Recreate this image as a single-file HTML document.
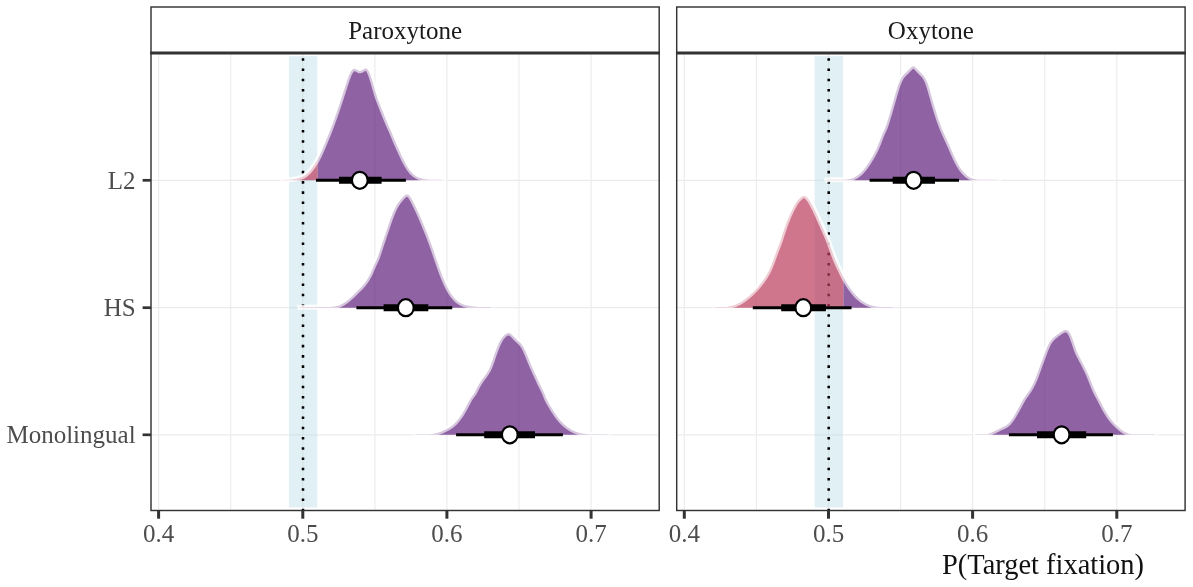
<!DOCTYPE html>
<html lang="en"><head><meta charset="utf-8"><title>P(Target fixation)</title>
<style>
html,body{margin:0;padding:0;background:#fff;}
body{width:1193px;height:587px;overflow:hidden;}
svg{display:block;will-change:transform;}
text{font-family:"Liberation Serif","DejaVu Serif",serif;}
.ax{font-size:25px;fill:#4d4d4d;}
.st{font-size:25px;fill:#1a1a1a;}
.tt{font-size:28.45px;fill:#111;}
</style></head><body>
<svg width="1193" height="587" viewBox="0 0 1193 587">
<rect width="1193" height="587" fill="#fff"/>
<clipPath id="c0"><rect x="151.0" y="53.0" width="508.20000000000005" height="457.5"/></clipPath>
<g clip-path="url(#c0)">
<line x1="230.7" x2="230.7" y1="53.0" y2="510.5" stroke="#ececec" stroke-width="1.1"/>
<line x1="374.9" x2="374.9" y1="53.0" y2="510.5" stroke="#ececec" stroke-width="1.1"/>
<line x1="519.0" x2="519.0" y1="53.0" y2="510.5" stroke="#ececec" stroke-width="1.1"/>
<line x1="158.6" x2="158.6" y1="53.0" y2="510.5" stroke="#ececec" stroke-width="1.2"/>
<line x1="302.8" x2="302.8" y1="53.0" y2="510.5" stroke="#ececec" stroke-width="1.2"/>
<line x1="446.9" x2="446.9" y1="53.0" y2="510.5" stroke="#ececec" stroke-width="1.2"/>
<line x1="591.1" x2="591.1" y1="53.0" y2="510.5" stroke="#ececec" stroke-width="1.2"/>
<line x1="151.0" x2="659.2" y1="180.3" y2="180.3" stroke="#ececec" stroke-width="1.2"/>
<line x1="151.0" x2="659.2" y1="307.7" y2="307.7" stroke="#ececec" stroke-width="1.2"/>
<line x1="151.0" x2="659.2" y1="434.8" y2="434.8" stroke="#ececec" stroke-width="1.2"/>
<rect x="289.0" y="56.2" width="28.3" height="451.2" fill="#add8e6" fill-opacity="0.38"/>
<line x1="303.0" x2="303.0" y1="511.2" y2="53.0" stroke="#000" stroke-width="2.56" stroke-dasharray="2.56 7.676"/>
<clipPath id="lL2P"><rect x="0" y="0" width="317.7" height="587"/></clipPath>
<clipPath id="rL2P"><rect x="317.7" y="0" width="1193" height="587"/></clipPath>
<defs><path id="fL2P" d="M280.0 180.3 L280.0 180.3 L280.5 180.2 L281.0 180.2 L281.5 180.1 L282.0 180.1 L282.5 180.0 L283.0 179.9 L283.5 179.9 L284.0 179.8 L284.5 179.8 L285.0 179.7 L285.5 179.7 L286.0 179.7 L286.5 179.7 L287.0 179.7 L287.5 179.7 L288.0 179.7 L288.5 179.7 L289.0 179.7 L289.5 179.7 L290.0 179.7 L290.5 179.6 L291.0 179.5 L291.5 179.5 L292.0 179.4 L292.5 179.4 L293.0 179.3 L293.5 179.2 L294.0 179.1 L294.5 179.0 L295.0 179.0 L295.5 178.9 L296.0 178.8 L296.5 178.7 L297.0 178.6 L297.5 178.4 L298.0 178.3 L298.5 178.2 L299.0 178.0 L299.5 177.9 L300.0 177.7 L300.5 177.6 L301.0 177.4 L301.5 177.2 L302.0 177.0 L302.5 176.8 L303.0 176.5 L303.5 176.3 L304.0 176.0 L304.5 175.7 L305.0 175.4 L305.5 175.0 L306.0 174.6 L306.5 174.2 L307.0 173.7 L307.5 173.3 L308.0 172.8 L308.5 172.3 L309.0 171.8 L309.5 171.2 L310.0 170.7 L310.5 170.1 L311.0 169.5 L311.5 168.8 L312.0 168.2 L312.5 167.5 L313.0 166.8 L313.5 166.1 L314.0 165.4 L314.5 164.7 L315.0 163.9 L315.5 163.1 L316.0 162.3 L316.5 161.5 L317.0 160.6 L317.5 159.7 L318.0 158.8 L318.5 157.8 L319.0 156.8 L319.5 155.7 L320.0 154.7 L320.5 153.6 L321.0 152.5 L321.5 151.4 L322.0 150.2 L322.5 149.1 L323.0 148.0 L323.5 146.8 L324.0 145.6 L324.5 144.4 L325.0 143.2 L325.5 141.9 L326.0 140.7 L326.5 139.5 L327.0 138.2 L327.5 137.0 L328.0 135.8 L328.5 134.5 L329.0 133.3 L329.5 132.1 L330.0 130.8 L330.5 129.5 L331.0 128.2 L331.5 126.9 L332.0 125.6 L332.5 124.2 L333.0 122.8 L333.5 121.5 L334.0 120.1 L334.5 118.7 L335.0 117.3 L335.5 115.8 L336.0 114.4 L336.5 112.9 L337.0 111.4 L337.5 109.9 L338.0 108.4 L338.5 106.9 L339.0 105.4 L339.5 103.9 L340.0 102.4 L340.5 100.9 L341.0 99.4 L341.5 97.9 L342.0 96.3 L342.5 94.8 L343.0 93.2 L343.5 91.6 L344.0 90.1 L344.5 88.5 L345.0 86.9 L345.5 85.4 L346.0 83.9 L346.5 82.4 L347.0 80.9 L347.5 79.5 L348.0 78.1 L348.5 76.8 L349.0 75.5 L349.5 74.4 L350.0 73.3 L350.5 72.3 L351.0 71.5 L351.5 70.8 L352.0 70.1 L352.5 69.6 L353.0 69.3 L353.5 69.0 L354.0 68.9 L354.5 68.8 L355.0 68.9 L355.5 69.0 L356.0 69.2 L356.5 69.5 L357.0 69.8 L357.5 70.1 L358.0 70.4 L358.5 70.6 L359.0 70.8 L359.5 70.9 L360.0 70.9 L360.5 70.8 L361.0 70.7 L361.5 70.5 L362.0 70.2 L362.5 70.0 L363.0 69.6 L363.5 69.3 L364.0 69.0 L364.5 68.7 L365.0 68.5 L365.5 68.4 L366.0 68.5 L366.5 68.6 L367.0 68.9 L367.5 69.3 L368.0 70.0 L368.5 70.7 L369.0 71.7 L369.5 72.7 L370.0 73.9 L370.5 75.3 L371.0 76.7 L371.5 78.2 L372.0 79.8 L372.5 81.4 L373.0 83.1 L373.5 84.8 L374.0 86.6 L374.5 88.4 L375.0 90.1 L375.5 91.9 L376.0 93.6 L376.5 95.2 L377.0 96.8 L377.5 98.3 L378.0 99.6 L378.5 101.0 L379.0 102.2 L379.5 103.5 L380.0 104.7 L380.5 106.0 L381.0 107.3 L381.5 108.5 L382.0 109.8 L382.5 111.1 L383.0 112.3 L383.5 113.6 L384.0 114.9 L384.5 116.1 L385.0 117.4 L385.5 118.6 L386.0 119.8 L386.5 121.0 L387.0 122.2 L387.5 123.4 L388.0 124.6 L388.5 125.7 L389.0 126.8 L389.5 127.9 L390.0 129.0 L390.5 130.1 L391.0 131.2 L391.5 132.4 L392.0 133.6 L392.5 134.8 L393.0 136.0 L393.5 137.2 L394.0 138.4 L394.5 139.6 L395.0 140.8 L395.5 142.0 L396.0 143.2 L396.5 144.3 L397.0 145.4 L397.5 146.6 L398.0 147.7 L398.5 148.8 L399.0 149.9 L399.5 151.0 L400.0 152.1 L400.5 153.2 L401.0 154.3 L401.5 155.4 L402.0 156.5 L402.5 157.5 L403.0 158.6 L403.5 159.6 L404.0 160.6 L404.5 161.6 L405.0 162.5 L405.5 163.5 L406.0 164.4 L406.5 165.2 L407.0 166.1 L407.5 166.9 L408.0 167.7 L408.5 168.4 L409.0 169.2 L409.5 169.9 L410.0 170.5 L410.5 171.1 L411.0 171.7 L411.5 172.3 L412.0 172.8 L412.5 173.3 L413.0 173.8 L413.5 174.2 L414.0 174.7 L414.5 175.1 L415.0 175.4 L415.5 175.8 L416.0 176.1 L416.5 176.4 L417.0 176.7 L417.5 176.9 L418.0 177.2 L418.5 177.4 L419.0 177.6 L419.5 177.8 L420.0 178.0 L420.5 178.1 L421.0 178.3 L421.5 178.4 L422.0 178.6 L422.5 178.7 L423.0 178.8 L423.5 178.9 L424.0 179.0 L424.5 179.1 L425.0 179.2 L425.5 179.2 L426.0 179.3 L426.5 179.4 L427.0 179.4 L427.5 179.5 L428.0 179.5 L428.5 179.6 L429.0 179.6 L429.5 179.7 L430.0 179.7 L430.5 179.7 L431.0 179.7 L431.5 179.7 L432.0 179.7 L432.5 179.7 L433.0 179.7 L433.5 179.7 L434.0 179.7 L434.5 179.7 L435.0 179.7 L435.5 179.7 L436.0 179.7 L436.5 179.7 L437.0 179.7 L437.5 179.7 L438.0 179.7 L438.5 179.7 L439.0 179.7 L439.5 179.7 L440.0 179.7 L440.5 179.7 L441.0 179.7 L441.5 179.8 L442.0 179.8 L442.5 179.9 L443.0 179.9 L443.5 180.0 L444.0 180.1 L444.5 180.1 L445.0 180.2 L445.5 180.2 L446.0 180.3 L446.0 180.3 Z"/><path id="oL2P" d="M280.0 180.3 L280.5 180.2 L281.0 180.2 L281.5 180.1 L282.0 180.1 L282.5 180.0 L283.0 179.9 L283.5 179.9 L284.0 179.8 L284.5 179.8 L285.0 179.7 L285.5 179.7 L286.0 179.7 L286.5 179.7 L287.0 179.7 L287.5 179.7 L288.0 179.7 L288.5 179.7 L289.0 179.7 L289.5 179.7 L290.0 179.7 L290.5 179.6 L291.0 179.5 L291.5 179.5 L292.0 179.4 L292.5 179.4 L293.0 179.3 L293.5 179.2 L294.0 179.1 L294.5 179.0 L295.0 179.0 L295.5 178.9 L296.0 178.8 L296.5 178.7 L297.0 178.6 L297.5 178.4 L298.0 178.3 L298.5 178.2 L299.0 178.0 L299.5 177.9 L300.0 177.7 L300.5 177.6 L301.0 177.4 L301.5 177.2 L302.0 177.0 L302.5 176.8 L303.0 176.5 L303.5 176.3 L304.0 176.0 L304.5 175.7 L305.0 175.4 L305.5 175.0 L306.0 174.6 L306.5 174.2 L307.0 173.7 L307.5 173.3 L308.0 172.8 L308.5 172.3 L309.0 171.8 L309.5 171.2 L310.0 170.7 L310.5 170.1 L311.0 169.5 L311.5 168.8 L312.0 168.2 L312.5 167.5 L313.0 166.8 L313.5 166.1 L314.0 165.4 L314.5 164.7 L315.0 163.9 L315.5 163.1 L316.0 162.3 L316.5 161.5 L317.0 160.6 L317.5 159.7 L318.0 158.8 L318.5 157.8 L319.0 156.8 L319.5 155.7 L320.0 154.7 L320.5 153.6 L321.0 152.5 L321.5 151.4 L322.0 150.2 L322.5 149.1 L323.0 148.0 L323.5 146.8 L324.0 145.6 L324.5 144.4 L325.0 143.2 L325.5 141.9 L326.0 140.7 L326.5 139.5 L327.0 138.2 L327.5 137.0 L328.0 135.8 L328.5 134.5 L329.0 133.3 L329.5 132.1 L330.0 130.8 L330.5 129.5 L331.0 128.2 L331.5 126.9 L332.0 125.6 L332.5 124.2 L333.0 122.8 L333.5 121.5 L334.0 120.1 L334.5 118.7 L335.0 117.3 L335.5 115.8 L336.0 114.4 L336.5 112.9 L337.0 111.4 L337.5 109.9 L338.0 108.4 L338.5 106.9 L339.0 105.4 L339.5 103.9 L340.0 102.4 L340.5 100.9 L341.0 99.4 L341.5 97.9 L342.0 96.3 L342.5 94.8 L343.0 93.2 L343.5 91.6 L344.0 90.1 L344.5 88.5 L345.0 86.9 L345.5 85.4 L346.0 83.9 L346.5 82.4 L347.0 80.9 L347.5 79.5 L348.0 78.1 L348.5 76.8 L349.0 75.5 L349.5 74.4 L350.0 73.3 L350.5 72.3 L351.0 71.5 L351.5 70.8 L352.0 70.1 L352.5 69.6 L353.0 69.3 L353.5 69.0 L354.0 68.9 L354.5 68.8 L355.0 68.9 L355.5 69.0 L356.0 69.2 L356.5 69.5 L357.0 69.8 L357.5 70.1 L358.0 70.4 L358.5 70.6 L359.0 70.8 L359.5 70.9 L360.0 70.9 L360.5 70.8 L361.0 70.7 L361.5 70.5 L362.0 70.2 L362.5 70.0 L363.0 69.6 L363.5 69.3 L364.0 69.0 L364.5 68.7 L365.0 68.5 L365.5 68.4 L366.0 68.5 L366.5 68.6 L367.0 68.9 L367.5 69.3 L368.0 70.0 L368.5 70.7 L369.0 71.7 L369.5 72.7 L370.0 73.9 L370.5 75.3 L371.0 76.7 L371.5 78.2 L372.0 79.8 L372.5 81.4 L373.0 83.1 L373.5 84.8 L374.0 86.6 L374.5 88.4 L375.0 90.1 L375.5 91.9 L376.0 93.6 L376.5 95.2 L377.0 96.8 L377.5 98.3 L378.0 99.6 L378.5 101.0 L379.0 102.2 L379.5 103.5 L380.0 104.7 L380.5 106.0 L381.0 107.3 L381.5 108.5 L382.0 109.8 L382.5 111.1 L383.0 112.3 L383.5 113.6 L384.0 114.9 L384.5 116.1 L385.0 117.4 L385.5 118.6 L386.0 119.8 L386.5 121.0 L387.0 122.2 L387.5 123.4 L388.0 124.6 L388.5 125.7 L389.0 126.8 L389.5 127.9 L390.0 129.0 L390.5 130.1 L391.0 131.2 L391.5 132.4 L392.0 133.6 L392.5 134.8 L393.0 136.0 L393.5 137.2 L394.0 138.4 L394.5 139.6 L395.0 140.8 L395.5 142.0 L396.0 143.2 L396.5 144.3 L397.0 145.4 L397.5 146.6 L398.0 147.7 L398.5 148.8 L399.0 149.9 L399.5 151.0 L400.0 152.1 L400.5 153.2 L401.0 154.3 L401.5 155.4 L402.0 156.5 L402.5 157.5 L403.0 158.6 L403.5 159.6 L404.0 160.6 L404.5 161.6 L405.0 162.5 L405.5 163.5 L406.0 164.4 L406.5 165.2 L407.0 166.1 L407.5 166.9 L408.0 167.7 L408.5 168.4 L409.0 169.2 L409.5 169.9 L410.0 170.5 L410.5 171.1 L411.0 171.7 L411.5 172.3 L412.0 172.8 L412.5 173.3 L413.0 173.8 L413.5 174.2 L414.0 174.7 L414.5 175.1 L415.0 175.4 L415.5 175.8 L416.0 176.1 L416.5 176.4 L417.0 176.7 L417.5 176.9 L418.0 177.2 L418.5 177.4 L419.0 177.6 L419.5 177.8 L420.0 178.0 L420.5 178.1 L421.0 178.3 L421.5 178.4 L422.0 178.6 L422.5 178.7 L423.0 178.8 L423.5 178.9 L424.0 179.0 L424.5 179.1 L425.0 179.2 L425.5 179.2 L426.0 179.3 L426.5 179.4 L427.0 179.4 L427.5 179.5 L428.0 179.5 L428.5 179.6 L429.0 179.6 L429.5 179.7 L430.0 179.7 L430.5 179.7 L431.0 179.7 L431.5 179.7 L432.0 179.7 L432.5 179.7 L433.0 179.7 L433.5 179.7 L434.0 179.7 L434.5 179.7 L435.0 179.7 L435.5 179.7 L436.0 179.7 L436.5 179.7 L437.0 179.7 L437.5 179.7 L438.0 179.7 L438.5 179.7 L439.0 179.7 L439.5 179.7 L440.0 179.7 L440.5 179.7 L441.0 179.7 L441.5 179.8 L442.0 179.8 L442.5 179.9 L443.0 179.9 L443.5 180.0 L444.0 180.1 L444.5 180.1 L445.0 180.2 L445.5 180.2 L446.0 180.3"/></defs>
<use href="#oL2P" fill="none" stroke="#fff" stroke-opacity="0.5" stroke-width="5.2" stroke-linejoin="round"/>
<use href="#fL2P" fill="#ba3b5b" fill-opacity="0.7" clip-path="url(#lL2P)"/>
<use href="#fL2P" fill="#5f207c" fill-opacity="0.7" clip-path="url(#rL2P)"/>
<use href="#oL2P" fill="none" stroke="#fff" stroke-opacity="0.64" stroke-width="4.6" stroke-linejoin="round"/>
<clipPath id="lHSP"><rect x="0" y="0" width="317.7" height="587"/></clipPath>
<clipPath id="rHSP"><rect x="317.7" y="0" width="1193" height="587"/></clipPath>
<defs><path id="fHSP" d="M297.4 307.7 L297.4 307.7 L297.9 307.6 L298.4 307.6 L298.9 307.5 L299.4 307.5 L299.9 307.4 L300.4 307.3 L300.9 307.3 L301.4 307.2 L301.9 307.2 L302.4 307.1 L302.9 307.1 L303.4 307.1 L303.9 307.1 L304.4 307.1 L304.9 307.1 L305.4 307.1 L305.9 307.1 L306.4 307.1 L306.9 307.1 L307.4 307.1 L307.9 307.1 L308.4 307.1 L308.9 307.1 L309.4 307.1 L309.9 307.1 L310.4 307.1 L310.9 307.1 L311.4 307.1 L311.9 307.1 L312.4 307.1 L312.9 307.1 L313.4 307.1 L313.9 307.1 L314.4 307.1 L314.9 307.1 L315.4 307.1 L315.9 307.1 L316.4 307.1 L316.9 307.1 L317.4 307.1 L317.9 307.1 L318.4 307.1 L318.9 307.1 L319.4 307.1 L319.9 307.1 L320.4 307.1 L320.9 307.1 L321.4 307.1 L321.9 307.1 L322.4 307.1 L322.9 307.1 L323.4 307.1 L323.9 307.1 L324.4 307.1 L324.9 307.1 L325.4 307.1 L325.9 307.1 L326.4 307.1 L326.9 307.1 L327.4 307.1 L327.9 307.1 L328.4 307.1 L328.9 307.1 L329.4 307.1 L329.9 307.0 L330.4 307.0 L330.9 307.0 L331.4 306.9 L331.9 306.8 L332.4 306.8 L332.9 306.7 L333.4 306.6 L333.9 306.6 L334.4 306.5 L334.9 306.4 L335.4 306.3 L335.9 306.2 L336.4 306.1 L336.9 306.0 L337.4 305.9 L337.9 305.7 L338.4 305.6 L338.9 305.4 L339.4 305.2 L339.9 305.0 L340.4 304.8 L340.9 304.5 L341.4 304.3 L341.9 304.0 L342.4 303.7 L342.9 303.5 L343.4 303.2 L343.9 302.9 L344.4 302.6 L344.9 302.2 L345.4 301.9 L345.9 301.6 L346.4 301.2 L346.9 300.8 L347.4 300.4 L347.9 300.0 L348.4 299.6 L348.9 299.2 L349.4 298.7 L349.9 298.3 L350.4 297.8 L350.9 297.4 L351.4 296.9 L351.9 296.5 L352.4 296.0 L352.9 295.5 L353.4 295.0 L353.9 294.5 L354.4 294.0 L354.9 293.5 L355.4 293.0 L355.9 292.5 L356.4 292.0 L356.9 291.5 L357.4 291.0 L357.9 290.5 L358.4 290.0 L358.9 289.5 L359.4 289.0 L359.9 288.5 L360.4 288.0 L360.9 287.5 L361.4 287.0 L361.9 286.5 L362.4 285.9 L362.9 285.4 L363.4 284.8 L363.9 284.2 L364.4 283.5 L364.9 282.9 L365.4 282.2 L365.9 281.5 L366.4 280.8 L366.9 280.0 L367.4 279.2 L367.9 278.4 L368.4 277.5 L368.9 276.6 L369.4 275.7 L369.9 274.7 L370.4 273.7 L370.9 272.6 L371.4 271.4 L371.9 270.2 L372.4 269.0 L372.9 267.9 L373.4 266.7 L373.9 265.6 L374.4 264.5 L374.9 263.5 L375.4 262.4 L375.9 261.4 L376.4 260.2 L376.9 259.1 L377.4 257.8 L377.9 256.4 L378.4 255.0 L378.9 253.5 L379.4 252.0 L379.9 250.5 L380.4 249.0 L380.9 247.4 L381.4 245.9 L381.9 244.4 L382.4 242.9 L382.9 241.4 L383.4 239.9 L383.9 238.4 L384.4 236.9 L384.9 235.4 L385.4 233.9 L385.9 232.4 L386.4 230.9 L386.9 229.4 L387.4 227.9 L387.9 226.4 L388.4 225.0 L388.9 223.5 L389.4 222.1 L389.9 220.7 L390.4 219.3 L390.9 217.9 L391.4 216.6 L391.9 215.3 L392.4 214.0 L392.9 212.8 L393.4 211.6 L393.9 210.5 L394.4 209.4 L394.9 208.4 L395.4 207.4 L395.9 206.5 L396.4 205.6 L396.9 204.8 L397.4 204.0 L397.9 203.2 L398.4 202.5 L398.9 201.9 L399.4 201.2 L399.9 200.6 L400.4 200.0 L400.9 199.4 L401.4 198.8 L401.9 198.2 L402.4 197.7 L402.9 197.2 L403.4 196.7 L403.9 196.2 L404.4 195.7 L404.9 195.3 L405.4 195.0 L405.9 194.7 L406.4 194.5 L406.9 194.4 L407.4 194.4 L407.9 194.6 L408.4 194.8 L408.9 195.2 L409.4 195.7 L409.9 196.3 L410.4 197.0 L410.9 197.7 L411.4 198.5 L411.9 199.4 L412.4 200.3 L412.9 201.3 L413.4 202.2 L413.9 203.2 L414.4 204.2 L414.9 205.2 L415.4 206.3 L415.9 207.3 L416.4 208.4 L416.9 209.4 L417.4 210.5 L417.9 211.5 L418.4 212.6 L418.9 213.7 L419.4 214.8 L419.9 216.0 L420.4 217.1 L420.9 218.3 L421.4 219.4 L421.9 220.6 L422.4 221.8 L422.9 223.0 L423.4 224.2 L423.9 225.4 L424.4 226.6 L424.9 227.9 L425.4 229.1 L425.9 230.3 L426.4 231.6 L426.9 232.8 L427.4 234.1 L427.9 235.4 L428.4 236.6 L428.9 237.9 L429.4 239.3 L429.9 240.6 L430.4 241.9 L430.9 243.3 L431.4 244.7 L431.9 246.1 L432.4 247.4 L432.9 248.8 L433.4 250.3 L433.9 251.7 L434.4 253.2 L434.9 254.7 L435.4 256.2 L435.9 257.7 L436.4 259.2 L436.9 260.6 L437.4 262.1 L437.9 263.6 L438.4 265.0 L438.9 266.4 L439.4 267.8 L439.9 269.2 L440.4 270.6 L440.9 271.9 L441.4 273.3 L441.9 274.6 L442.4 275.9 L442.9 277.2 L443.4 278.4 L443.9 279.6 L444.4 280.8 L444.9 282.0 L445.4 283.1 L445.9 284.2 L446.4 285.3 L446.9 286.4 L447.4 287.4 L447.9 288.3 L448.4 289.3 L448.9 290.2 L449.4 291.0 L449.9 291.9 L450.4 292.7 L450.9 293.4 L451.4 294.2 L451.9 294.9 L452.4 295.6 L452.9 296.3 L453.4 296.9 L453.9 297.5 L454.4 298.1 L454.9 298.6 L455.4 299.2 L455.9 299.7 L456.4 300.1 L456.9 300.6 L457.4 301.0 L457.9 301.4 L458.4 301.8 L458.9 302.1 L459.4 302.4 L459.9 302.8 L460.4 303.1 L460.9 303.3 L461.4 303.6 L461.9 303.8 L462.4 304.0 L462.9 304.2 L463.4 304.4 L463.9 304.6 L464.4 304.8 L464.9 304.9 L465.4 305.0 L465.9 305.2 L466.4 305.3 L466.9 305.4 L467.4 305.5 L467.9 305.7 L468.4 305.8 L468.9 305.8 L469.4 305.9 L469.9 306.0 L470.4 306.1 L470.9 306.2 L471.4 306.2 L471.9 306.3 L472.4 306.4 L472.9 306.4 L473.4 306.5 L473.9 306.6 L474.4 306.6 L474.9 306.7 L475.4 306.7 L475.9 306.8 L476.4 306.8 L476.9 306.9 L477.4 306.9 L477.9 306.9 L478.4 307.0 L478.9 307.0 L479.4 307.0 L479.9 307.1 L480.4 307.1 L480.9 307.1 L481.4 307.1 L481.9 307.1 L482.4 307.1 L482.9 307.1 L483.4 307.1 L483.9 307.1 L484.4 307.1 L484.9 307.1 L485.4 307.1 L485.9 307.1 L486.4 307.1 L486.9 307.1 L487.4 307.1 L487.9 307.1 L488.4 307.1 L488.9 307.1 L489.4 307.1 L489.9 307.1 L490.4 307.2 L490.9 307.2 L491.4 307.3 L491.9 307.3 L492.4 307.4 L492.9 307.5 L493.4 307.5 L493.9 307.6 L494.4 307.6 L494.9 307.7 L494.9 307.7 Z"/><path id="oHSP" d="M297.4 307.7 L297.9 307.6 L298.4 307.6 L298.9 307.5 L299.4 307.5 L299.9 307.4 L300.4 307.3 L300.9 307.3 L301.4 307.2 L301.9 307.2 L302.4 307.1 L302.9 307.1 L303.4 307.1 L303.9 307.1 L304.4 307.1 L304.9 307.1 L305.4 307.1 L305.9 307.1 L306.4 307.1 L306.9 307.1 L307.4 307.1 L307.9 307.1 L308.4 307.1 L308.9 307.1 L309.4 307.1 L309.9 307.1 L310.4 307.1 L310.9 307.1 L311.4 307.1 L311.9 307.1 L312.4 307.1 L312.9 307.1 L313.4 307.1 L313.9 307.1 L314.4 307.1 L314.9 307.1 L315.4 307.1 L315.9 307.1 L316.4 307.1 L316.9 307.1 L317.4 307.1 L317.9 307.1 L318.4 307.1 L318.9 307.1 L319.4 307.1 L319.9 307.1 L320.4 307.1 L320.9 307.1 L321.4 307.1 L321.9 307.1 L322.4 307.1 L322.9 307.1 L323.4 307.1 L323.9 307.1 L324.4 307.1 L324.9 307.1 L325.4 307.1 L325.9 307.1 L326.4 307.1 L326.9 307.1 L327.4 307.1 L327.9 307.1 L328.4 307.1 L328.9 307.1 L329.4 307.1 L329.9 307.0 L330.4 307.0 L330.9 307.0 L331.4 306.9 L331.9 306.8 L332.4 306.8 L332.9 306.7 L333.4 306.6 L333.9 306.6 L334.4 306.5 L334.9 306.4 L335.4 306.3 L335.9 306.2 L336.4 306.1 L336.9 306.0 L337.4 305.9 L337.9 305.7 L338.4 305.6 L338.9 305.4 L339.4 305.2 L339.9 305.0 L340.4 304.8 L340.9 304.5 L341.4 304.3 L341.9 304.0 L342.4 303.7 L342.9 303.5 L343.4 303.2 L343.9 302.9 L344.4 302.6 L344.9 302.2 L345.4 301.9 L345.9 301.6 L346.4 301.2 L346.9 300.8 L347.4 300.4 L347.9 300.0 L348.4 299.6 L348.9 299.2 L349.4 298.7 L349.9 298.3 L350.4 297.8 L350.9 297.4 L351.4 296.9 L351.9 296.5 L352.4 296.0 L352.9 295.5 L353.4 295.0 L353.9 294.5 L354.4 294.0 L354.9 293.5 L355.4 293.0 L355.9 292.5 L356.4 292.0 L356.9 291.5 L357.4 291.0 L357.9 290.5 L358.4 290.0 L358.9 289.5 L359.4 289.0 L359.9 288.5 L360.4 288.0 L360.9 287.5 L361.4 287.0 L361.9 286.5 L362.4 285.9 L362.9 285.4 L363.4 284.8 L363.9 284.2 L364.4 283.5 L364.9 282.9 L365.4 282.2 L365.9 281.5 L366.4 280.8 L366.9 280.0 L367.4 279.2 L367.9 278.4 L368.4 277.5 L368.9 276.6 L369.4 275.7 L369.9 274.7 L370.4 273.7 L370.9 272.6 L371.4 271.4 L371.9 270.2 L372.4 269.0 L372.9 267.9 L373.4 266.7 L373.9 265.6 L374.4 264.5 L374.9 263.5 L375.4 262.4 L375.9 261.4 L376.4 260.2 L376.9 259.1 L377.4 257.8 L377.9 256.4 L378.4 255.0 L378.9 253.5 L379.4 252.0 L379.9 250.5 L380.4 249.0 L380.9 247.4 L381.4 245.9 L381.9 244.4 L382.4 242.9 L382.9 241.4 L383.4 239.9 L383.9 238.4 L384.4 236.9 L384.9 235.4 L385.4 233.9 L385.9 232.4 L386.4 230.9 L386.9 229.4 L387.4 227.9 L387.9 226.4 L388.4 225.0 L388.9 223.5 L389.4 222.1 L389.9 220.7 L390.4 219.3 L390.9 217.9 L391.4 216.6 L391.9 215.3 L392.4 214.0 L392.9 212.8 L393.4 211.6 L393.9 210.5 L394.4 209.4 L394.9 208.4 L395.4 207.4 L395.9 206.5 L396.4 205.6 L396.9 204.8 L397.4 204.0 L397.9 203.2 L398.4 202.5 L398.9 201.9 L399.4 201.2 L399.9 200.6 L400.4 200.0 L400.9 199.4 L401.4 198.8 L401.9 198.2 L402.4 197.7 L402.9 197.2 L403.4 196.7 L403.9 196.2 L404.4 195.7 L404.9 195.3 L405.4 195.0 L405.9 194.7 L406.4 194.5 L406.9 194.4 L407.4 194.4 L407.9 194.6 L408.4 194.8 L408.9 195.2 L409.4 195.7 L409.9 196.3 L410.4 197.0 L410.9 197.7 L411.4 198.5 L411.9 199.4 L412.4 200.3 L412.9 201.3 L413.4 202.2 L413.9 203.2 L414.4 204.2 L414.9 205.2 L415.4 206.3 L415.9 207.3 L416.4 208.4 L416.9 209.4 L417.4 210.5 L417.9 211.5 L418.4 212.6 L418.9 213.7 L419.4 214.8 L419.9 216.0 L420.4 217.1 L420.9 218.3 L421.4 219.4 L421.9 220.6 L422.4 221.8 L422.9 223.0 L423.4 224.2 L423.9 225.4 L424.4 226.6 L424.9 227.9 L425.4 229.1 L425.9 230.3 L426.4 231.6 L426.9 232.8 L427.4 234.1 L427.9 235.4 L428.4 236.6 L428.9 237.9 L429.4 239.3 L429.9 240.6 L430.4 241.9 L430.9 243.3 L431.4 244.7 L431.9 246.1 L432.4 247.4 L432.9 248.8 L433.4 250.3 L433.9 251.7 L434.4 253.2 L434.9 254.7 L435.4 256.2 L435.9 257.7 L436.4 259.2 L436.9 260.6 L437.4 262.1 L437.9 263.6 L438.4 265.0 L438.9 266.4 L439.4 267.8 L439.9 269.2 L440.4 270.6 L440.9 271.9 L441.4 273.3 L441.9 274.6 L442.4 275.9 L442.9 277.2 L443.4 278.4 L443.9 279.6 L444.4 280.8 L444.9 282.0 L445.4 283.1 L445.9 284.2 L446.4 285.3 L446.9 286.4 L447.4 287.4 L447.9 288.3 L448.4 289.3 L448.9 290.2 L449.4 291.0 L449.9 291.9 L450.4 292.7 L450.9 293.4 L451.4 294.2 L451.9 294.9 L452.4 295.6 L452.9 296.3 L453.4 296.9 L453.9 297.5 L454.4 298.1 L454.9 298.6 L455.4 299.2 L455.9 299.7 L456.4 300.1 L456.9 300.6 L457.4 301.0 L457.9 301.4 L458.4 301.8 L458.9 302.1 L459.4 302.4 L459.9 302.8 L460.4 303.1 L460.9 303.3 L461.4 303.6 L461.9 303.8 L462.4 304.0 L462.9 304.2 L463.4 304.4 L463.9 304.6 L464.4 304.8 L464.9 304.9 L465.4 305.0 L465.9 305.2 L466.4 305.3 L466.9 305.4 L467.4 305.5 L467.9 305.7 L468.4 305.8 L468.9 305.8 L469.4 305.9 L469.9 306.0 L470.4 306.1 L470.9 306.2 L471.4 306.2 L471.9 306.3 L472.4 306.4 L472.9 306.4 L473.4 306.5 L473.9 306.6 L474.4 306.6 L474.9 306.7 L475.4 306.7 L475.9 306.8 L476.4 306.8 L476.9 306.9 L477.4 306.9 L477.9 306.9 L478.4 307.0 L478.9 307.0 L479.4 307.0 L479.9 307.1 L480.4 307.1 L480.9 307.1 L481.4 307.1 L481.9 307.1 L482.4 307.1 L482.9 307.1 L483.4 307.1 L483.9 307.1 L484.4 307.1 L484.9 307.1 L485.4 307.1 L485.9 307.1 L486.4 307.1 L486.9 307.1 L487.4 307.1 L487.9 307.1 L488.4 307.1 L488.9 307.1 L489.4 307.1 L489.9 307.1 L490.4 307.2 L490.9 307.2 L491.4 307.3 L491.9 307.3 L492.4 307.4 L492.9 307.5 L493.4 307.5 L493.9 307.6 L494.4 307.6 L494.9 307.7"/></defs>
<use href="#oHSP" fill="none" stroke="#fff" stroke-opacity="0.5" stroke-width="5.2" stroke-linejoin="round"/>
<use href="#fHSP" fill="#ba3b5b" fill-opacity="0.7" clip-path="url(#lHSP)"/>
<use href="#fHSP" fill="#5f207c" fill-opacity="0.7" clip-path="url(#rHSP)"/>
<use href="#oHSP" fill="none" stroke="#fff" stroke-opacity="0.64" stroke-width="4.6" stroke-linejoin="round"/>
<clipPath id="lMonoP"><rect x="0" y="0" width="317.7" height="587"/></clipPath>
<clipPath id="rMonoP"><rect x="317.7" y="0" width="1193" height="587"/></clipPath>
<defs><path id="fMonoP" d="M412.4 434.8 L412.4 434.8 L412.9 434.7 L413.4 434.7 L413.9 434.6 L414.4 434.6 L414.9 434.5 L415.4 434.4 L415.9 434.4 L416.4 434.3 L416.9 434.3 L417.4 434.2 L417.9 434.2 L418.4 434.2 L418.9 434.2 L419.4 434.2 L419.9 434.2 L420.4 434.2 L420.9 434.2 L421.4 434.2 L421.9 434.2 L422.4 434.2 L422.9 434.2 L423.4 434.2 L423.9 434.2 L424.4 434.2 L424.9 434.2 L425.4 434.2 L425.9 434.2 L426.4 434.2 L426.9 434.2 L427.4 434.2 L427.9 434.2 L428.4 434.2 L428.9 434.2 L429.4 434.2 L429.9 434.2 L430.4 434.2 L430.9 434.1 L431.4 434.1 L431.9 434.0 L432.4 433.9 L432.9 433.8 L433.4 433.7 L433.9 433.6 L434.4 433.5 L434.9 433.4 L435.4 433.3 L435.9 433.2 L436.4 433.1 L436.9 433.0 L437.4 432.9 L437.9 432.7 L438.4 432.6 L438.9 432.4 L439.4 432.2 L439.9 432.0 L440.4 431.9 L440.9 431.7 L441.4 431.5 L441.9 431.2 L442.4 431.0 L442.9 430.8 L443.4 430.6 L443.9 430.3 L444.4 430.1 L444.9 429.9 L445.4 429.6 L445.9 429.4 L446.4 429.1 L446.9 428.9 L447.4 428.6 L447.9 428.3 L448.4 428.0 L448.9 427.7 L449.4 427.4 L449.9 427.1 L450.4 426.7 L450.9 426.4 L451.4 426.0 L451.9 425.7 L452.4 425.3 L452.9 424.9 L453.4 424.4 L453.9 424.0 L454.4 423.5 L454.9 423.0 L455.4 422.5 L455.9 422.0 L456.4 421.4 L456.9 420.8 L457.4 420.3 L457.9 419.7 L458.4 419.0 L458.9 418.4 L459.4 417.7 L459.9 417.0 L460.4 416.3 L460.9 415.6 L461.4 414.8 L461.9 414.1 L462.4 413.3 L462.9 412.4 L463.4 411.6 L463.9 410.7 L464.4 409.8 L464.9 408.9 L465.4 408.0 L465.9 407.1 L466.4 406.1 L466.9 405.2 L467.4 404.2 L467.9 403.3 L468.4 402.3 L468.9 401.4 L469.4 400.4 L469.9 399.6 L470.4 398.7 L470.9 397.9 L471.4 397.2 L471.9 396.6 L472.4 395.9 L472.9 395.3 L473.4 394.6 L473.9 393.9 L474.4 393.1 L474.9 392.3 L475.4 391.3 L475.9 390.3 L476.4 389.3 L476.9 388.3 L477.4 387.3 L477.9 386.3 L478.4 385.4 L478.9 384.5 L479.4 383.7 L479.9 382.9 L480.4 382.1 L480.9 381.3 L481.4 380.6 L481.9 379.8 L482.4 379.1 L482.9 378.5 L483.4 377.8 L483.9 377.1 L484.4 376.5 L484.9 375.8 L485.4 375.1 L485.9 374.4 L486.4 373.7 L486.9 373.0 L487.4 372.1 L487.9 371.3 L488.4 370.4 L488.9 369.4 L489.4 368.3 L489.9 367.2 L490.4 366.0 L490.9 364.7 L491.4 363.3 L491.9 361.9 L492.4 360.5 L492.9 359.0 L493.4 357.6 L493.9 356.1 L494.4 354.6 L494.9 353.2 L495.4 351.8 L495.9 350.4 L496.4 349.1 L496.9 347.8 L497.4 346.6 L497.9 345.4 L498.4 344.2 L498.9 343.2 L499.4 342.1 L499.9 341.2 L500.4 340.3 L500.9 339.4 L501.4 338.6 L501.9 337.9 L502.4 337.3 L502.9 336.7 L503.4 336.1 L503.9 335.6 L504.4 335.1 L504.9 334.7 L505.4 334.3 L505.9 333.9 L506.4 333.7 L506.9 333.4 L507.4 333.2 L507.9 333.1 L508.4 333.1 L508.9 333.1 L509.4 333.2 L509.9 333.4 L510.4 333.6 L510.9 333.9 L511.4 334.3 L511.9 334.7 L512.4 335.2 L512.9 335.7 L513.4 336.2 L513.9 336.7 L514.4 337.3 L514.9 337.8 L515.4 338.3 L515.9 338.8 L516.4 339.3 L516.9 339.8 L517.4 340.3 L517.9 340.7 L518.4 341.2 L518.9 341.6 L519.4 342.1 L519.9 342.6 L520.4 343.1 L520.9 343.6 L521.4 344.2 L521.9 344.8 L522.4 345.5 L522.9 346.3 L523.4 347.1 L523.9 347.9 L524.4 348.9 L524.9 349.9 L525.4 351.0 L525.9 352.1 L526.4 353.3 L526.9 354.5 L527.4 355.7 L527.9 357.0 L528.4 358.2 L528.9 359.5 L529.4 360.7 L529.9 362.0 L530.4 363.2 L530.9 364.4 L531.4 365.5 L531.9 366.7 L532.4 367.8 L532.9 368.9 L533.4 370.0 L533.9 371.1 L534.4 372.2 L534.9 373.3 L535.4 374.4 L535.9 375.5 L536.4 376.6 L536.9 377.7 L537.4 378.8 L537.9 379.9 L538.4 381.0 L538.9 382.1 L539.4 383.2 L539.9 384.3 L540.4 385.3 L540.9 386.3 L541.4 387.3 L541.9 388.3 L542.4 389.3 L542.9 390.3 L543.4 391.3 L543.9 392.4 L544.4 393.5 L544.9 394.7 L545.4 396.0 L545.9 397.2 L546.4 398.4 L546.9 399.6 L547.4 400.6 L547.9 401.6 L548.4 402.5 L548.9 403.4 L549.4 404.2 L549.9 405.1 L550.4 406.0 L550.9 406.8 L551.4 407.6 L551.9 408.4 L552.4 409.3 L552.9 410.1 L553.4 410.9 L553.9 411.6 L554.4 412.4 L554.9 413.2 L555.4 413.9 L555.9 414.7 L556.4 415.4 L556.9 416.1 L557.4 416.8 L557.9 417.5 L558.4 418.1 L558.9 418.7 L559.4 419.3 L559.9 419.9 L560.4 420.5 L560.9 421.0 L561.4 421.6 L561.9 422.1 L562.4 422.6 L562.9 423.1 L563.4 423.5 L563.9 424.0 L564.4 424.5 L564.9 424.9 L565.4 425.3 L565.9 425.7 L566.4 426.1 L566.9 426.5 L567.4 426.9 L567.9 427.3 L568.4 427.6 L568.9 428.0 L569.4 428.3 L569.9 428.7 L570.4 429.0 L570.9 429.3 L571.4 429.6 L571.9 429.9 L572.4 430.1 L572.9 430.4 L573.4 430.6 L573.9 430.9 L574.4 431.1 L574.9 431.3 L575.4 431.5 L575.9 431.7 L576.4 431.9 L576.9 432.1 L577.4 432.2 L577.9 432.4 L578.4 432.5 L578.9 432.7 L579.4 432.8 L579.9 432.9 L580.4 433.0 L580.9 433.2 L581.4 433.3 L581.9 433.4 L582.4 433.4 L582.9 433.5 L583.4 433.6 L583.9 433.7 L584.4 433.8 L584.9 433.8 L585.4 433.9 L585.9 434.0 L586.4 434.0 L586.9 434.1 L587.4 434.1 L587.9 434.2 L588.4 434.2 L588.9 434.2 L589.4 434.2 L589.9 434.2 L590.4 434.2 L590.9 434.2 L591.4 434.2 L591.9 434.2 L592.4 434.2 L592.9 434.2 L593.4 434.2 L593.9 434.2 L594.4 434.2 L594.9 434.2 L595.4 434.2 L595.9 434.2 L596.4 434.2 L596.9 434.2 L597.4 434.2 L597.9 434.2 L598.4 434.2 L598.9 434.2 L599.4 434.2 L599.9 434.2 L600.4 434.2 L600.9 434.2 L601.4 434.2 L601.9 434.2 L602.4 434.2 L602.9 434.2 L603.4 434.2 L603.9 434.2 L604.4 434.2 L604.9 434.2 L605.4 434.2 L605.9 434.2 L606.4 434.3 L606.9 434.3 L607.4 434.4 L607.9 434.4 L608.4 434.5 L608.9 434.6 L609.4 434.6 L609.9 434.7 L610.4 434.7 L610.9 434.8 L610.9 434.8 Z"/><path id="oMonoP" d="M412.4 434.8 L412.9 434.7 L413.4 434.7 L413.9 434.6 L414.4 434.6 L414.9 434.5 L415.4 434.4 L415.9 434.4 L416.4 434.3 L416.9 434.3 L417.4 434.2 L417.9 434.2 L418.4 434.2 L418.9 434.2 L419.4 434.2 L419.9 434.2 L420.4 434.2 L420.9 434.2 L421.4 434.2 L421.9 434.2 L422.4 434.2 L422.9 434.2 L423.4 434.2 L423.9 434.2 L424.4 434.2 L424.9 434.2 L425.4 434.2 L425.9 434.2 L426.4 434.2 L426.9 434.2 L427.4 434.2 L427.9 434.2 L428.4 434.2 L428.9 434.2 L429.4 434.2 L429.9 434.2 L430.4 434.2 L430.9 434.1 L431.4 434.1 L431.9 434.0 L432.4 433.9 L432.9 433.8 L433.4 433.7 L433.9 433.6 L434.4 433.5 L434.9 433.4 L435.4 433.3 L435.9 433.2 L436.4 433.1 L436.9 433.0 L437.4 432.9 L437.9 432.7 L438.4 432.6 L438.9 432.4 L439.4 432.2 L439.9 432.0 L440.4 431.9 L440.9 431.7 L441.4 431.5 L441.9 431.2 L442.4 431.0 L442.9 430.8 L443.4 430.6 L443.9 430.3 L444.4 430.1 L444.9 429.9 L445.4 429.6 L445.9 429.4 L446.4 429.1 L446.9 428.9 L447.4 428.6 L447.9 428.3 L448.4 428.0 L448.9 427.7 L449.4 427.4 L449.9 427.1 L450.4 426.7 L450.9 426.4 L451.4 426.0 L451.9 425.7 L452.4 425.3 L452.9 424.9 L453.4 424.4 L453.9 424.0 L454.4 423.5 L454.9 423.0 L455.4 422.5 L455.9 422.0 L456.4 421.4 L456.9 420.8 L457.4 420.3 L457.9 419.7 L458.4 419.0 L458.9 418.4 L459.4 417.7 L459.9 417.0 L460.4 416.3 L460.9 415.6 L461.4 414.8 L461.9 414.1 L462.4 413.3 L462.9 412.4 L463.4 411.6 L463.9 410.7 L464.4 409.8 L464.9 408.9 L465.4 408.0 L465.9 407.1 L466.4 406.1 L466.9 405.2 L467.4 404.2 L467.9 403.3 L468.4 402.3 L468.9 401.4 L469.4 400.4 L469.9 399.6 L470.4 398.7 L470.9 397.9 L471.4 397.2 L471.9 396.6 L472.4 395.9 L472.9 395.3 L473.4 394.6 L473.9 393.9 L474.4 393.1 L474.9 392.3 L475.4 391.3 L475.9 390.3 L476.4 389.3 L476.9 388.3 L477.4 387.3 L477.9 386.3 L478.4 385.4 L478.9 384.5 L479.4 383.7 L479.9 382.9 L480.4 382.1 L480.9 381.3 L481.4 380.6 L481.9 379.8 L482.4 379.1 L482.9 378.5 L483.4 377.8 L483.9 377.1 L484.4 376.5 L484.9 375.8 L485.4 375.1 L485.9 374.4 L486.4 373.7 L486.9 373.0 L487.4 372.1 L487.9 371.3 L488.4 370.4 L488.9 369.4 L489.4 368.3 L489.9 367.2 L490.4 366.0 L490.9 364.7 L491.4 363.3 L491.9 361.9 L492.4 360.5 L492.9 359.0 L493.4 357.6 L493.9 356.1 L494.4 354.6 L494.9 353.2 L495.4 351.8 L495.9 350.4 L496.4 349.1 L496.9 347.8 L497.4 346.6 L497.9 345.4 L498.4 344.2 L498.9 343.2 L499.4 342.1 L499.9 341.2 L500.4 340.3 L500.9 339.4 L501.4 338.6 L501.9 337.9 L502.4 337.3 L502.9 336.7 L503.4 336.1 L503.9 335.6 L504.4 335.1 L504.9 334.7 L505.4 334.3 L505.9 333.9 L506.4 333.7 L506.9 333.4 L507.4 333.2 L507.9 333.1 L508.4 333.1 L508.9 333.1 L509.4 333.2 L509.9 333.4 L510.4 333.6 L510.9 333.9 L511.4 334.3 L511.9 334.7 L512.4 335.2 L512.9 335.7 L513.4 336.2 L513.9 336.7 L514.4 337.3 L514.9 337.8 L515.4 338.3 L515.9 338.8 L516.4 339.3 L516.9 339.8 L517.4 340.3 L517.9 340.7 L518.4 341.2 L518.9 341.6 L519.4 342.1 L519.9 342.6 L520.4 343.1 L520.9 343.6 L521.4 344.2 L521.9 344.8 L522.4 345.5 L522.9 346.3 L523.4 347.1 L523.9 347.9 L524.4 348.9 L524.9 349.9 L525.4 351.0 L525.9 352.1 L526.4 353.3 L526.9 354.5 L527.4 355.7 L527.9 357.0 L528.4 358.2 L528.9 359.5 L529.4 360.7 L529.9 362.0 L530.4 363.2 L530.9 364.4 L531.4 365.5 L531.9 366.7 L532.4 367.8 L532.9 368.9 L533.4 370.0 L533.9 371.1 L534.4 372.2 L534.9 373.3 L535.4 374.4 L535.9 375.5 L536.4 376.6 L536.9 377.7 L537.4 378.8 L537.9 379.9 L538.4 381.0 L538.9 382.1 L539.4 383.2 L539.9 384.3 L540.4 385.3 L540.9 386.3 L541.4 387.3 L541.9 388.3 L542.4 389.3 L542.9 390.3 L543.4 391.3 L543.9 392.4 L544.4 393.5 L544.9 394.7 L545.4 396.0 L545.9 397.2 L546.4 398.4 L546.9 399.6 L547.4 400.6 L547.9 401.6 L548.4 402.5 L548.9 403.4 L549.4 404.2 L549.9 405.1 L550.4 406.0 L550.9 406.8 L551.4 407.6 L551.9 408.4 L552.4 409.3 L552.9 410.1 L553.4 410.9 L553.9 411.6 L554.4 412.4 L554.9 413.2 L555.4 413.9 L555.9 414.7 L556.4 415.4 L556.9 416.1 L557.4 416.8 L557.9 417.5 L558.4 418.1 L558.9 418.7 L559.4 419.3 L559.9 419.9 L560.4 420.5 L560.9 421.0 L561.4 421.6 L561.9 422.1 L562.4 422.6 L562.9 423.1 L563.4 423.5 L563.9 424.0 L564.4 424.5 L564.9 424.9 L565.4 425.3 L565.9 425.7 L566.4 426.1 L566.9 426.5 L567.4 426.9 L567.9 427.3 L568.4 427.6 L568.9 428.0 L569.4 428.3 L569.9 428.7 L570.4 429.0 L570.9 429.3 L571.4 429.6 L571.9 429.9 L572.4 430.1 L572.9 430.4 L573.4 430.6 L573.9 430.9 L574.4 431.1 L574.9 431.3 L575.4 431.5 L575.9 431.7 L576.4 431.9 L576.9 432.1 L577.4 432.2 L577.9 432.4 L578.4 432.5 L578.9 432.7 L579.4 432.8 L579.9 432.9 L580.4 433.0 L580.9 433.2 L581.4 433.3 L581.9 433.4 L582.4 433.4 L582.9 433.5 L583.4 433.6 L583.9 433.7 L584.4 433.8 L584.9 433.8 L585.4 433.9 L585.9 434.0 L586.4 434.0 L586.9 434.1 L587.4 434.1 L587.9 434.2 L588.4 434.2 L588.9 434.2 L589.4 434.2 L589.9 434.2 L590.4 434.2 L590.9 434.2 L591.4 434.2 L591.9 434.2 L592.4 434.2 L592.9 434.2 L593.4 434.2 L593.9 434.2 L594.4 434.2 L594.9 434.2 L595.4 434.2 L595.9 434.2 L596.4 434.2 L596.9 434.2 L597.4 434.2 L597.9 434.2 L598.4 434.2 L598.9 434.2 L599.4 434.2 L599.9 434.2 L600.4 434.2 L600.9 434.2 L601.4 434.2 L601.9 434.2 L602.4 434.2 L602.9 434.2 L603.4 434.2 L603.9 434.2 L604.4 434.2 L604.9 434.2 L605.4 434.2 L605.9 434.2 L606.4 434.3 L606.9 434.3 L607.4 434.4 L607.9 434.4 L608.4 434.5 L608.9 434.6 L609.4 434.6 L609.9 434.7 L610.4 434.7 L610.9 434.8"/></defs>
<use href="#oMonoP" fill="none" stroke="#fff" stroke-opacity="0.5" stroke-width="5.2" stroke-linejoin="round"/>
<use href="#fMonoP" fill="#5f207c" fill-opacity="0.7" clip-path="url(#rMonoP)"/>
<use href="#oMonoP" fill="none" stroke="#fff" stroke-opacity="0.64" stroke-width="4.6" stroke-linejoin="round"/>
<line x1="316.0" x2="405.9" y1="180.3" y2="180.3" stroke="#000" stroke-width="3.1"/>
<line x1="339.0" x2="381.6" y1="180.3" y2="180.3" stroke="#000" stroke-width="6.9"/>
<ellipse cx="359.8" cy="180.3" rx="7.9" ry="8.5" fill="#fff" stroke="#000" stroke-width="2.2"/>
<line x1="356.4" x2="452.2" y1="307.7" y2="307.7" stroke="#000" stroke-width="3.1"/>
<line x1="383.6" x2="428.3" y1="307.7" y2="307.7" stroke="#000" stroke-width="6.9"/>
<ellipse cx="405.8" cy="307.7" rx="7.9" ry="8.5" fill="#fff" stroke="#000" stroke-width="2.2"/>
<line x1="456.1" x2="562.9" y1="434.8" y2="434.8" stroke="#000" stroke-width="3.1"/>
<line x1="484.2" x2="535.0" y1="434.8" y2="434.8" stroke="#000" stroke-width="6.9"/>
<ellipse cx="509.8" cy="434.8" rx="7.9" ry="8.5" fill="#fff" stroke="#000" stroke-width="2.2"/>
</g>
<rect x="151.0" y="7.0" width="508.20000000000005" height="46.0" fill="none" stroke="#333" stroke-width="1.45"/>
<rect x="151.0" y="53.0" width="508.20000000000005" height="457.5" fill="none" stroke="#333" stroke-width="1.45"/>
<line x1="150.3" x2="659.9000000000001" y1="53.0" y2="53.0" stroke="#333" stroke-width="3"/>
<line x1="158.6" x2="158.6" y1="510.5" y2="518.7" stroke="#333" stroke-width="3"/>
<text x="158.6" y="542.2" text-anchor="middle" class="ax">0.4</text>
<line x1="302.8" x2="302.8" y1="510.5" y2="518.7" stroke="#333" stroke-width="3"/>
<text x="302.8" y="542.2" text-anchor="middle" class="ax">0.5</text>
<line x1="446.9" x2="446.9" y1="510.5" y2="518.7" stroke="#333" stroke-width="3"/>
<text x="446.9" y="542.2" text-anchor="middle" class="ax">0.6</text>
<line x1="591.1" x2="591.1" y1="510.5" y2="518.7" stroke="#333" stroke-width="3"/>
<text x="591.1" y="542.2" text-anchor="middle" class="ax">0.7</text>
<text x="405.1" y="38.5" text-anchor="middle" class="st">Paroxytone</text>
<clipPath id="c1"><rect x="676.7" y="53.0" width="508.39999999999986" height="457.5"/></clipPath>
<g clip-path="url(#c1)">
<line x1="756.4" x2="756.4" y1="53.0" y2="510.5" stroke="#ececec" stroke-width="1.1"/>
<line x1="900.6" x2="900.6" y1="53.0" y2="510.5" stroke="#ececec" stroke-width="1.1"/>
<line x1="1044.7" x2="1044.7" y1="53.0" y2="510.5" stroke="#ececec" stroke-width="1.1"/>
<line x1="684.3" x2="684.3" y1="53.0" y2="510.5" stroke="#ececec" stroke-width="1.2"/>
<line x1="828.5" x2="828.5" y1="53.0" y2="510.5" stroke="#ececec" stroke-width="1.2"/>
<line x1="972.6" x2="972.6" y1="53.0" y2="510.5" stroke="#ececec" stroke-width="1.2"/>
<line x1="1116.8" x2="1116.8" y1="53.0" y2="510.5" stroke="#ececec" stroke-width="1.2"/>
<line x1="676.7" x2="1185.1" y1="180.3" y2="180.3" stroke="#ececec" stroke-width="1.2"/>
<line x1="676.7" x2="1185.1" y1="307.7" y2="307.7" stroke="#ececec" stroke-width="1.2"/>
<line x1="676.7" x2="1185.1" y1="434.8" y2="434.8" stroke="#ececec" stroke-width="1.2"/>
<rect x="814.7" y="56.2" width="28.3" height="451.2" fill="#add8e6" fill-opacity="0.38"/>
<line x1="828.7" x2="828.7" y1="511.2" y2="53.0" stroke="#000" stroke-width="2.56" stroke-dasharray="2.56 7.676"/>
<clipPath id="lL2O"><rect x="0" y="0" width="843.4" height="587"/></clipPath>
<clipPath id="rL2O"><rect x="843.4" y="0" width="1193" height="587"/></clipPath>
<defs><path id="fL2O" d="M824.5 180.3 L824.5 180.3 L825.0 180.2 L825.5 180.2 L826.0 180.1 L826.5 180.1 L827.0 180.0 L827.5 179.9 L828.0 179.9 L828.5 179.8 L829.0 179.8 L829.5 179.7 L830.0 179.7 L830.5 179.7 L831.0 179.7 L831.5 179.7 L832.0 179.7 L832.5 179.7 L833.0 179.7 L833.5 179.7 L834.0 179.7 L834.5 179.7 L835.0 179.7 L835.5 179.7 L836.0 179.7 L836.5 179.7 L837.0 179.7 L837.5 179.7 L838.0 179.7 L838.5 179.7 L839.0 179.7 L839.5 179.7 L840.0 179.7 L840.5 179.7 L841.0 179.7 L841.5 179.7 L842.0 179.7 L842.5 179.7 L843.0 179.7 L843.5 179.7 L844.0 179.7 L844.5 179.7 L845.0 179.7 L845.5 179.7 L846.0 179.7 L846.5 179.6 L847.0 179.6 L847.5 179.5 L848.0 179.4 L848.5 179.3 L849.0 179.2 L849.5 179.1 L850.0 179.0 L850.5 178.9 L851.0 178.8 L851.5 178.6 L852.0 178.5 L852.5 178.3 L853.0 178.1 L853.5 177.9 L854.0 177.6 L854.5 177.4 L855.0 177.1 L855.5 176.8 L856.0 176.5 L856.5 176.2 L857.0 175.9 L857.5 175.5 L858.0 175.2 L858.5 174.8 L859.0 174.4 L859.5 174.0 L860.0 173.6 L860.5 173.1 L861.0 172.6 L861.5 172.1 L862.0 171.6 L862.5 171.1 L863.0 170.5 L863.5 169.9 L864.0 169.3 L864.5 168.7 L865.0 168.1 L865.5 167.4 L866.0 166.7 L866.5 166.0 L867.0 165.3 L867.5 164.6 L868.0 163.8 L868.5 163.1 L869.0 162.3 L869.5 161.5 L870.0 160.7 L870.5 159.9 L871.0 159.1 L871.5 158.3 L872.0 157.4 L872.5 156.6 L873.0 155.7 L873.5 154.8 L874.0 153.8 L874.5 152.9 L875.0 151.9 L875.5 150.9 L876.0 149.9 L876.5 148.8 L877.0 147.7 L877.5 146.5 L878.0 145.3 L878.5 144.1 L879.0 142.8 L879.5 141.5 L880.0 140.2 L880.5 138.9 L881.0 137.5 L881.5 136.2 L882.0 134.9 L882.5 133.8 L883.0 132.7 L883.5 131.6 L884.0 130.6 L884.5 129.5 L885.0 128.3 L885.5 127.1 L886.0 125.7 L886.5 124.2 L887.0 122.7 L887.5 121.1 L888.0 119.5 L888.5 117.9 L889.0 116.2 L889.5 114.5 L890.0 112.9 L890.5 111.1 L891.0 109.4 L891.5 107.7 L892.0 105.9 L892.5 104.2 L893.0 102.4 L893.5 100.7 L894.0 98.9 L894.5 97.1 L895.0 95.4 L895.5 93.7 L896.0 92.0 L896.5 90.3 L897.0 88.7 L897.5 87.1 L898.0 85.6 L898.5 84.2 L899.0 82.9 L899.5 81.7 L900.0 80.6 L900.5 79.6 L901.0 78.6 L901.5 77.8 L902.0 77.0 L902.5 76.3 L903.0 75.7 L903.5 75.1 L904.0 74.5 L904.5 74.0 L905.0 73.5 L905.5 73.0 L906.0 72.5 L906.5 72.0 L907.0 71.5 L907.5 71.0 L908.0 70.5 L908.5 70.0 L909.0 69.5 L909.5 69.0 L910.0 68.5 L910.5 68.0 L911.0 67.5 L911.5 67.1 L912.0 66.7 L912.5 66.4 L913.0 66.3 L913.5 66.3 L914.0 66.4 L914.5 66.6 L915.0 67.0 L915.5 67.4 L916.0 67.9 L916.5 68.4 L917.0 69.0 L917.5 69.5 L918.0 70.0 L918.5 70.6 L919.0 71.1 L919.5 71.6 L920.0 72.1 L920.5 72.6 L921.0 73.1 L921.5 73.6 L922.0 74.1 L922.5 74.6 L923.0 75.2 L923.5 75.7 L924.0 76.4 L924.5 77.0 L925.0 77.8 L925.5 78.6 L926.0 79.5 L926.5 80.6 L927.0 81.7 L927.5 83.0 L928.0 84.3 L928.5 85.8 L929.0 87.4 L929.5 89.1 L930.0 90.8 L930.5 92.6 L931.0 94.4 L931.5 96.2 L932.0 98.0 L932.5 99.8 L933.0 101.6 L933.5 103.3 L934.0 105.1 L934.5 106.8 L935.0 108.4 L935.5 110.1 L936.0 111.7 L936.5 113.3 L937.0 114.9 L937.5 116.5 L938.0 118.0 L938.5 119.5 L939.0 120.9 L939.5 122.3 L940.0 123.7 L940.5 125.1 L941.0 126.4 L941.5 127.7 L942.0 128.9 L942.5 130.1 L943.0 131.3 L943.5 132.4 L944.0 133.5 L944.5 134.7 L945.0 135.8 L945.5 136.9 L946.0 138.0 L946.5 139.1 L947.0 140.2 L947.5 141.3 L948.0 142.4 L948.5 143.5 L949.0 144.6 L949.5 145.7 L950.0 146.8 L950.5 147.9 L951.0 149.1 L951.5 150.2 L952.0 151.4 L952.5 152.5 L953.0 153.7 L953.5 154.8 L954.0 155.9 L954.5 157.1 L955.0 158.2 L955.5 159.2 L956.0 160.2 L956.5 161.2 L957.0 162.2 L957.5 163.1 L958.0 164.0 L958.5 164.9 L959.0 165.8 L959.5 166.6 L960.0 167.4 L960.5 168.2 L961.0 168.9 L961.5 169.6 L962.0 170.3 L962.5 170.9 L963.0 171.6 L963.5 172.1 L964.0 172.7 L964.5 173.2 L965.0 173.7 L965.5 174.2 L966.0 174.6 L966.5 175.1 L967.0 175.5 L967.5 175.9 L968.0 176.2 L968.5 176.6 L969.0 176.9 L969.5 177.2 L970.0 177.5 L970.5 177.7 L971.0 177.9 L971.5 178.1 L972.0 178.3 L972.5 178.5 L973.0 178.7 L973.5 178.8 L974.0 179.0 L974.5 179.1 L975.0 179.2 L975.5 179.3 L976.0 179.4 L976.5 179.5 L977.0 179.6 L977.5 179.6 L978.0 179.7 L978.5 179.7 L979.0 179.7 L979.5 179.7 L980.0 179.7 L980.5 179.7 L981.0 179.7 L981.5 179.7 L982.0 179.7 L982.5 179.7 L983.0 179.7 L983.5 179.7 L984.0 179.7 L984.5 179.7 L985.0 179.7 L985.5 179.7 L986.0 179.7 L986.5 179.7 L987.0 179.7 L987.5 179.7 L988.0 179.7 L988.5 179.7 L989.0 179.7 L989.5 179.7 L990.0 179.7 L990.5 179.7 L991.0 179.7 L991.5 179.7 L992.0 179.7 L992.5 179.7 L993.0 179.7 L993.5 179.7 L994.0 179.7 L994.5 179.7 L995.0 179.7 L995.5 179.7 L996.0 179.7 L996.5 179.8 L997.0 179.8 L997.5 179.9 L998.0 179.9 L998.5 180.0 L999.0 180.1 L999.5 180.1 L1000.0 180.2 L1000.5 180.2 L1001.0 180.3 L1001.0 180.3 Z"/><path id="oL2O" d="M824.5 180.3 L825.0 180.2 L825.5 180.2 L826.0 180.1 L826.5 180.1 L827.0 180.0 L827.5 179.9 L828.0 179.9 L828.5 179.8 L829.0 179.8 L829.5 179.7 L830.0 179.7 L830.5 179.7 L831.0 179.7 L831.5 179.7 L832.0 179.7 L832.5 179.7 L833.0 179.7 L833.5 179.7 L834.0 179.7 L834.5 179.7 L835.0 179.7 L835.5 179.7 L836.0 179.7 L836.5 179.7 L837.0 179.7 L837.5 179.7 L838.0 179.7 L838.5 179.7 L839.0 179.7 L839.5 179.7 L840.0 179.7 L840.5 179.7 L841.0 179.7 L841.5 179.7 L842.0 179.7 L842.5 179.7 L843.0 179.7 L843.5 179.7 L844.0 179.7 L844.5 179.7 L845.0 179.7 L845.5 179.7 L846.0 179.7 L846.5 179.6 L847.0 179.6 L847.5 179.5 L848.0 179.4 L848.5 179.3 L849.0 179.2 L849.5 179.1 L850.0 179.0 L850.5 178.9 L851.0 178.8 L851.5 178.6 L852.0 178.5 L852.5 178.3 L853.0 178.1 L853.5 177.9 L854.0 177.6 L854.5 177.4 L855.0 177.1 L855.5 176.8 L856.0 176.5 L856.5 176.2 L857.0 175.9 L857.5 175.5 L858.0 175.2 L858.5 174.8 L859.0 174.4 L859.5 174.0 L860.0 173.6 L860.5 173.1 L861.0 172.6 L861.5 172.1 L862.0 171.6 L862.5 171.1 L863.0 170.5 L863.5 169.9 L864.0 169.3 L864.5 168.7 L865.0 168.1 L865.5 167.4 L866.0 166.7 L866.5 166.0 L867.0 165.3 L867.5 164.6 L868.0 163.8 L868.5 163.1 L869.0 162.3 L869.5 161.5 L870.0 160.7 L870.5 159.9 L871.0 159.1 L871.5 158.3 L872.0 157.4 L872.5 156.6 L873.0 155.7 L873.5 154.8 L874.0 153.8 L874.5 152.9 L875.0 151.9 L875.5 150.9 L876.0 149.9 L876.5 148.8 L877.0 147.7 L877.5 146.5 L878.0 145.3 L878.5 144.1 L879.0 142.8 L879.5 141.5 L880.0 140.2 L880.5 138.9 L881.0 137.5 L881.5 136.2 L882.0 134.9 L882.5 133.8 L883.0 132.7 L883.5 131.6 L884.0 130.6 L884.5 129.5 L885.0 128.3 L885.5 127.1 L886.0 125.7 L886.5 124.2 L887.0 122.7 L887.5 121.1 L888.0 119.5 L888.5 117.9 L889.0 116.2 L889.5 114.5 L890.0 112.9 L890.5 111.1 L891.0 109.4 L891.5 107.7 L892.0 105.9 L892.5 104.2 L893.0 102.4 L893.5 100.7 L894.0 98.9 L894.5 97.1 L895.0 95.4 L895.5 93.7 L896.0 92.0 L896.5 90.3 L897.0 88.7 L897.5 87.1 L898.0 85.6 L898.5 84.2 L899.0 82.9 L899.5 81.7 L900.0 80.6 L900.5 79.6 L901.0 78.6 L901.5 77.8 L902.0 77.0 L902.5 76.3 L903.0 75.7 L903.5 75.1 L904.0 74.5 L904.5 74.0 L905.0 73.5 L905.5 73.0 L906.0 72.5 L906.5 72.0 L907.0 71.5 L907.5 71.0 L908.0 70.5 L908.5 70.0 L909.0 69.5 L909.5 69.0 L910.0 68.5 L910.5 68.0 L911.0 67.5 L911.5 67.1 L912.0 66.7 L912.5 66.4 L913.0 66.3 L913.5 66.3 L914.0 66.4 L914.5 66.6 L915.0 67.0 L915.5 67.4 L916.0 67.9 L916.5 68.4 L917.0 69.0 L917.5 69.5 L918.0 70.0 L918.5 70.6 L919.0 71.1 L919.5 71.6 L920.0 72.1 L920.5 72.6 L921.0 73.1 L921.5 73.6 L922.0 74.1 L922.5 74.6 L923.0 75.2 L923.5 75.7 L924.0 76.4 L924.5 77.0 L925.0 77.8 L925.5 78.6 L926.0 79.5 L926.5 80.6 L927.0 81.7 L927.5 83.0 L928.0 84.3 L928.5 85.8 L929.0 87.4 L929.5 89.1 L930.0 90.8 L930.5 92.6 L931.0 94.4 L931.5 96.2 L932.0 98.0 L932.5 99.8 L933.0 101.6 L933.5 103.3 L934.0 105.1 L934.5 106.8 L935.0 108.4 L935.5 110.1 L936.0 111.7 L936.5 113.3 L937.0 114.9 L937.5 116.5 L938.0 118.0 L938.5 119.5 L939.0 120.9 L939.5 122.3 L940.0 123.7 L940.5 125.1 L941.0 126.4 L941.5 127.7 L942.0 128.9 L942.5 130.1 L943.0 131.3 L943.5 132.4 L944.0 133.5 L944.5 134.7 L945.0 135.8 L945.5 136.9 L946.0 138.0 L946.5 139.1 L947.0 140.2 L947.5 141.3 L948.0 142.4 L948.5 143.5 L949.0 144.6 L949.5 145.7 L950.0 146.8 L950.5 147.9 L951.0 149.1 L951.5 150.2 L952.0 151.4 L952.5 152.5 L953.0 153.7 L953.5 154.8 L954.0 155.9 L954.5 157.1 L955.0 158.2 L955.5 159.2 L956.0 160.2 L956.5 161.2 L957.0 162.2 L957.5 163.1 L958.0 164.0 L958.5 164.9 L959.0 165.8 L959.5 166.6 L960.0 167.4 L960.5 168.2 L961.0 168.9 L961.5 169.6 L962.0 170.3 L962.5 170.9 L963.0 171.6 L963.5 172.1 L964.0 172.7 L964.5 173.2 L965.0 173.7 L965.5 174.2 L966.0 174.6 L966.5 175.1 L967.0 175.5 L967.5 175.9 L968.0 176.2 L968.5 176.6 L969.0 176.9 L969.5 177.2 L970.0 177.5 L970.5 177.7 L971.0 177.9 L971.5 178.1 L972.0 178.3 L972.5 178.5 L973.0 178.7 L973.5 178.8 L974.0 179.0 L974.5 179.1 L975.0 179.2 L975.5 179.3 L976.0 179.4 L976.5 179.5 L977.0 179.6 L977.5 179.6 L978.0 179.7 L978.5 179.7 L979.0 179.7 L979.5 179.7 L980.0 179.7 L980.5 179.7 L981.0 179.7 L981.5 179.7 L982.0 179.7 L982.5 179.7 L983.0 179.7 L983.5 179.7 L984.0 179.7 L984.5 179.7 L985.0 179.7 L985.5 179.7 L986.0 179.7 L986.5 179.7 L987.0 179.7 L987.5 179.7 L988.0 179.7 L988.5 179.7 L989.0 179.7 L989.5 179.7 L990.0 179.7 L990.5 179.7 L991.0 179.7 L991.5 179.7 L992.0 179.7 L992.5 179.7 L993.0 179.7 L993.5 179.7 L994.0 179.7 L994.5 179.7 L995.0 179.7 L995.5 179.7 L996.0 179.7 L996.5 179.8 L997.0 179.8 L997.5 179.9 L998.0 179.9 L998.5 180.0 L999.0 180.1 L999.5 180.1 L1000.0 180.2 L1000.5 180.2 L1001.0 180.3"/></defs>
<use href="#oL2O" fill="none" stroke="#fff" stroke-opacity="0.5" stroke-width="5.2" stroke-linejoin="round"/>
<use href="#fL2O" fill="#ba3b5b" fill-opacity="0.7" clip-path="url(#lL2O)"/>
<use href="#fL2O" fill="#5f207c" fill-opacity="0.7" clip-path="url(#rL2O)"/>
<use href="#oL2O" fill="none" stroke="#fff" stroke-opacity="0.64" stroke-width="4.6" stroke-linejoin="round"/>
<clipPath id="lHSO"><rect x="0" y="0" width="843.4" height="587"/></clipPath>
<clipPath id="rHSO"><rect x="843.4" y="0" width="1193" height="587"/></clipPath>
<defs><path id="fHSO" d="M711.1 307.7 L711.1 307.6 L711.6 307.6 L712.1 307.6 L712.6 307.5 L713.1 307.5 L713.6 307.4 L714.1 307.3 L714.6 307.3 L715.1 307.2 L715.6 307.2 L716.1 307.1 L716.6 307.1 L717.1 307.1 L717.6 307.1 L718.1 307.1 L718.6 307.1 L719.1 307.1 L719.6 307.1 L720.1 307.1 L720.6 307.1 L721.1 307.1 L721.6 307.1 L722.1 307.1 L722.6 307.1 L723.1 307.1 L723.6 307.1 L724.1 307.1 L724.6 307.1 L725.1 307.1 L725.6 307.0 L726.1 306.9 L726.6 306.9 L727.1 306.8 L727.6 306.7 L728.1 306.6 L728.6 306.5 L729.1 306.4 L729.6 306.3 L730.1 306.2 L730.6 306.1 L731.1 306.0 L731.6 305.9 L732.1 305.7 L732.6 305.6 L733.1 305.5 L733.6 305.3 L734.1 305.1 L734.6 304.9 L735.1 304.8 L735.6 304.6 L736.1 304.4 L736.6 304.1 L737.1 303.9 L737.6 303.7 L738.1 303.5 L738.6 303.2 L739.1 303.0 L739.6 302.7 L740.1 302.4 L740.6 302.2 L741.1 301.9 L741.6 301.6 L742.1 301.2 L742.6 300.9 L743.1 300.6 L743.6 300.2 L744.1 299.8 L744.6 299.5 L745.1 299.1 L745.6 298.7 L746.1 298.3 L746.6 297.9 L747.1 297.5 L747.6 297.1 L748.1 296.7 L748.6 296.3 L749.1 295.9 L749.6 295.4 L750.1 295.0 L750.6 294.5 L751.1 294.1 L751.6 293.6 L752.1 293.1 L752.6 292.7 L753.1 292.2 L753.6 291.7 L754.1 291.2 L754.6 290.7 L755.1 290.1 L755.6 289.6 L756.1 289.1 L756.6 288.5 L757.1 287.9 L757.6 287.4 L758.1 286.8 L758.6 286.2 L759.1 285.6 L759.6 285.0 L760.1 284.4 L760.6 283.7 L761.1 283.1 L761.6 282.5 L762.1 281.8 L762.6 281.1 L763.1 280.4 L763.6 279.7 L764.1 279.0 L764.6 278.3 L765.1 277.5 L765.6 276.7 L766.1 275.9 L766.6 275.0 L767.1 274.2 L767.6 273.3 L768.1 272.3 L768.6 271.3 L769.1 270.3 L769.6 269.2 L770.1 268.1 L770.6 266.9 L771.1 265.7 L771.6 264.4 L772.1 263.1 L772.6 261.8 L773.1 260.4 L773.6 259.1 L774.1 257.7 L774.6 256.4 L775.1 255.0 L775.6 253.7 L776.1 252.3 L776.6 251.0 L777.1 249.7 L777.6 248.4 L778.1 247.1 L778.6 245.8 L779.1 244.5 L779.6 243.1 L780.1 241.7 L780.6 240.2 L781.1 238.7 L781.6 237.1 L782.1 235.6 L782.6 234.0 L783.1 232.5 L783.6 231.0 L784.1 229.5 L784.6 228.1 L785.1 226.7 L785.6 225.3 L786.1 224.0 L786.6 222.6 L787.1 221.4 L787.6 220.1 L788.1 218.8 L788.6 217.6 L789.1 216.4 L789.6 215.3 L790.1 214.2 L790.6 213.1 L791.1 212.0 L791.6 211.0 L792.1 210.0 L792.6 209.0 L793.1 208.0 L793.6 207.1 L794.1 206.1 L794.6 205.2 L795.1 204.4 L795.6 203.5 L796.1 202.8 L796.6 202.0 L797.1 201.3 L797.6 200.7 L798.1 200.1 L798.6 199.5 L799.1 199.0 L799.6 198.5 L800.1 198.0 L800.6 197.6 L801.1 197.1 L801.6 196.8 L802.1 196.5 L802.6 196.2 L803.1 196.0 L803.6 195.9 L804.1 195.9 L804.6 196.0 L805.1 196.1 L805.6 196.4 L806.1 196.7 L806.6 197.1 L807.1 197.6 L807.6 198.1 L808.1 198.7 L808.6 199.3 L809.1 200.0 L809.6 200.8 L810.1 201.6 L810.6 202.4 L811.1 203.3 L811.6 204.2 L812.1 205.1 L812.6 206.1 L813.1 207.0 L813.6 208.0 L814.1 209.0 L814.6 210.0 L815.1 211.0 L815.6 212.1 L816.1 213.1 L816.6 214.2 L817.1 215.3 L817.6 216.4 L818.1 217.5 L818.6 218.7 L819.1 219.8 L819.6 220.9 L820.1 222.1 L820.6 223.2 L821.1 224.3 L821.6 225.4 L822.1 226.5 L822.6 227.7 L823.1 228.8 L823.6 229.9 L824.1 231.0 L824.6 232.2 L825.1 233.3 L825.6 234.4 L826.1 235.6 L826.6 236.7 L827.1 237.9 L827.6 239.1 L828.1 240.4 L828.6 241.7 L829.1 243.0 L829.6 244.3 L830.1 245.7 L830.6 247.1 L831.1 248.5 L831.6 249.9 L832.1 251.3 L832.6 252.7 L833.1 254.0 L833.6 255.4 L834.1 256.7 L834.6 258.0 L835.1 259.3 L835.6 260.5 L836.1 261.7 L836.6 262.9 L837.1 264.0 L837.6 265.1 L838.1 266.1 L838.6 267.2 L839.1 268.2 L839.6 269.3 L840.1 270.3 L840.6 271.4 L841.1 272.4 L841.6 273.5 L842.1 274.5 L842.6 275.5 L843.1 276.5 L843.6 277.5 L844.1 278.4 L844.6 279.3 L845.1 280.2 L845.6 281.1 L846.1 281.9 L846.6 282.8 L847.1 283.6 L847.6 284.4 L848.1 285.1 L848.6 285.9 L849.1 286.6 L849.6 287.4 L850.1 288.1 L850.6 288.8 L851.1 289.5 L851.6 290.1 L852.1 290.8 L852.6 291.4 L853.1 292.1 L853.6 292.7 L854.1 293.3 L854.6 293.9 L855.1 294.4 L855.6 295.0 L856.1 295.5 L856.6 296.0 L857.1 296.5 L857.6 297.0 L858.1 297.5 L858.6 298.0 L859.1 298.4 L859.6 298.9 L860.1 299.3 L860.6 299.7 L861.1 300.1 L861.6 300.5 L862.1 300.8 L862.6 301.2 L863.1 301.5 L863.6 301.8 L864.1 302.1 L864.6 302.4 L865.1 302.7 L865.6 302.9 L866.1 303.2 L866.6 303.5 L867.1 303.7 L867.6 303.9 L868.1 304.1 L868.6 304.3 L869.1 304.5 L869.6 304.7 L870.1 304.9 L870.6 305.0 L871.1 305.2 L871.6 305.4 L872.1 305.5 L872.6 305.7 L873.1 305.8 L873.6 305.9 L874.1 306.0 L874.6 306.2 L875.1 306.3 L875.6 306.4 L876.1 306.5 L876.6 306.5 L877.1 306.6 L877.6 306.7 L878.1 306.7 L878.6 306.8 L879.1 306.8 L879.6 306.9 L880.1 306.9 L880.6 307.0 L881.1 307.0 L881.6 307.1 L882.1 307.1 L882.6 307.1 L883.1 307.1 L883.6 307.1 L884.1 307.1 L884.6 307.1 L885.1 307.1 L885.6 307.1 L886.1 307.1 L886.6 307.1 L887.1 307.1 L887.6 307.1 L888.1 307.1 L888.6 307.1 L889.1 307.1 L889.6 307.1 L890.1 307.1 L890.6 307.1 L891.1 307.1 L891.6 307.1 L892.1 307.2 L892.6 307.2 L893.1 307.3 L893.6 307.3 L894.1 307.4 L894.6 307.5 L895.1 307.5 L895.6 307.6 L896.1 307.6 L896.6 307.6 L896.6 307.7 Z"/><path id="oHSO" d="M711.1 307.6 L711.6 307.6 L712.1 307.6 L712.6 307.5 L713.1 307.5 L713.6 307.4 L714.1 307.3 L714.6 307.3 L715.1 307.2 L715.6 307.2 L716.1 307.1 L716.6 307.1 L717.1 307.1 L717.6 307.1 L718.1 307.1 L718.6 307.1 L719.1 307.1 L719.6 307.1 L720.1 307.1 L720.6 307.1 L721.1 307.1 L721.6 307.1 L722.1 307.1 L722.6 307.1 L723.1 307.1 L723.6 307.1 L724.1 307.1 L724.6 307.1 L725.1 307.1 L725.6 307.0 L726.1 306.9 L726.6 306.9 L727.1 306.8 L727.6 306.7 L728.1 306.6 L728.6 306.5 L729.1 306.4 L729.6 306.3 L730.1 306.2 L730.6 306.1 L731.1 306.0 L731.6 305.9 L732.1 305.7 L732.6 305.6 L733.1 305.5 L733.6 305.3 L734.1 305.1 L734.6 304.9 L735.1 304.8 L735.6 304.6 L736.1 304.4 L736.6 304.1 L737.1 303.9 L737.6 303.7 L738.1 303.5 L738.6 303.2 L739.1 303.0 L739.6 302.7 L740.1 302.4 L740.6 302.2 L741.1 301.9 L741.6 301.6 L742.1 301.2 L742.6 300.9 L743.1 300.6 L743.6 300.2 L744.1 299.8 L744.6 299.5 L745.1 299.1 L745.6 298.7 L746.1 298.3 L746.6 297.9 L747.1 297.5 L747.6 297.1 L748.1 296.7 L748.6 296.3 L749.1 295.9 L749.6 295.4 L750.1 295.0 L750.6 294.5 L751.1 294.1 L751.6 293.6 L752.1 293.1 L752.6 292.7 L753.1 292.2 L753.6 291.7 L754.1 291.2 L754.6 290.7 L755.1 290.1 L755.6 289.6 L756.1 289.1 L756.6 288.5 L757.1 287.9 L757.6 287.4 L758.1 286.8 L758.6 286.2 L759.1 285.6 L759.6 285.0 L760.1 284.4 L760.6 283.7 L761.1 283.1 L761.6 282.5 L762.1 281.8 L762.6 281.1 L763.1 280.4 L763.6 279.7 L764.1 279.0 L764.6 278.3 L765.1 277.5 L765.6 276.7 L766.1 275.9 L766.6 275.0 L767.1 274.2 L767.6 273.3 L768.1 272.3 L768.6 271.3 L769.1 270.3 L769.6 269.2 L770.1 268.1 L770.6 266.9 L771.1 265.7 L771.6 264.4 L772.1 263.1 L772.6 261.8 L773.1 260.4 L773.6 259.1 L774.1 257.7 L774.6 256.4 L775.1 255.0 L775.6 253.7 L776.1 252.3 L776.6 251.0 L777.1 249.7 L777.6 248.4 L778.1 247.1 L778.6 245.8 L779.1 244.5 L779.6 243.1 L780.1 241.7 L780.6 240.2 L781.1 238.7 L781.6 237.1 L782.1 235.6 L782.6 234.0 L783.1 232.5 L783.6 231.0 L784.1 229.5 L784.6 228.1 L785.1 226.7 L785.6 225.3 L786.1 224.0 L786.6 222.6 L787.1 221.4 L787.6 220.1 L788.1 218.8 L788.6 217.6 L789.1 216.4 L789.6 215.3 L790.1 214.2 L790.6 213.1 L791.1 212.0 L791.6 211.0 L792.1 210.0 L792.6 209.0 L793.1 208.0 L793.6 207.1 L794.1 206.1 L794.6 205.2 L795.1 204.4 L795.6 203.5 L796.1 202.8 L796.6 202.0 L797.1 201.3 L797.6 200.7 L798.1 200.1 L798.6 199.5 L799.1 199.0 L799.6 198.5 L800.1 198.0 L800.6 197.6 L801.1 197.1 L801.6 196.8 L802.1 196.5 L802.6 196.2 L803.1 196.0 L803.6 195.9 L804.1 195.9 L804.6 196.0 L805.1 196.1 L805.6 196.4 L806.1 196.7 L806.6 197.1 L807.1 197.6 L807.6 198.1 L808.1 198.7 L808.6 199.3 L809.1 200.0 L809.6 200.8 L810.1 201.6 L810.6 202.4 L811.1 203.3 L811.6 204.2 L812.1 205.1 L812.6 206.1 L813.1 207.0 L813.6 208.0 L814.1 209.0 L814.6 210.0 L815.1 211.0 L815.6 212.1 L816.1 213.1 L816.6 214.2 L817.1 215.3 L817.6 216.4 L818.1 217.5 L818.6 218.7 L819.1 219.8 L819.6 220.9 L820.1 222.1 L820.6 223.2 L821.1 224.3 L821.6 225.4 L822.1 226.5 L822.6 227.7 L823.1 228.8 L823.6 229.9 L824.1 231.0 L824.6 232.2 L825.1 233.3 L825.6 234.4 L826.1 235.6 L826.6 236.7 L827.1 237.9 L827.6 239.1 L828.1 240.4 L828.6 241.7 L829.1 243.0 L829.6 244.3 L830.1 245.7 L830.6 247.1 L831.1 248.5 L831.6 249.9 L832.1 251.3 L832.6 252.7 L833.1 254.0 L833.6 255.4 L834.1 256.7 L834.6 258.0 L835.1 259.3 L835.6 260.5 L836.1 261.7 L836.6 262.9 L837.1 264.0 L837.6 265.1 L838.1 266.1 L838.6 267.2 L839.1 268.2 L839.6 269.3 L840.1 270.3 L840.6 271.4 L841.1 272.4 L841.6 273.5 L842.1 274.5 L842.6 275.5 L843.1 276.5 L843.6 277.5 L844.1 278.4 L844.6 279.3 L845.1 280.2 L845.6 281.1 L846.1 281.9 L846.6 282.8 L847.1 283.6 L847.6 284.4 L848.1 285.1 L848.6 285.9 L849.1 286.6 L849.6 287.4 L850.1 288.1 L850.6 288.8 L851.1 289.5 L851.6 290.1 L852.1 290.8 L852.6 291.4 L853.1 292.1 L853.6 292.7 L854.1 293.3 L854.6 293.9 L855.1 294.4 L855.6 295.0 L856.1 295.5 L856.6 296.0 L857.1 296.5 L857.6 297.0 L858.1 297.5 L858.6 298.0 L859.1 298.4 L859.6 298.9 L860.1 299.3 L860.6 299.7 L861.1 300.1 L861.6 300.5 L862.1 300.8 L862.6 301.2 L863.1 301.5 L863.6 301.8 L864.1 302.1 L864.6 302.4 L865.1 302.7 L865.6 302.9 L866.1 303.2 L866.6 303.5 L867.1 303.7 L867.6 303.9 L868.1 304.1 L868.6 304.3 L869.1 304.5 L869.6 304.7 L870.1 304.9 L870.6 305.0 L871.1 305.2 L871.6 305.4 L872.1 305.5 L872.6 305.7 L873.1 305.8 L873.6 305.9 L874.1 306.0 L874.6 306.2 L875.1 306.3 L875.6 306.4 L876.1 306.5 L876.6 306.5 L877.1 306.6 L877.6 306.7 L878.1 306.7 L878.6 306.8 L879.1 306.8 L879.6 306.9 L880.1 306.9 L880.6 307.0 L881.1 307.0 L881.6 307.1 L882.1 307.1 L882.6 307.1 L883.1 307.1 L883.6 307.1 L884.1 307.1 L884.6 307.1 L885.1 307.1 L885.6 307.1 L886.1 307.1 L886.6 307.1 L887.1 307.1 L887.6 307.1 L888.1 307.1 L888.6 307.1 L889.1 307.1 L889.6 307.1 L890.1 307.1 L890.6 307.1 L891.1 307.1 L891.6 307.1 L892.1 307.2 L892.6 307.2 L893.1 307.3 L893.6 307.3 L894.1 307.4 L894.6 307.5 L895.1 307.5 L895.6 307.6 L896.1 307.6 L896.6 307.6"/></defs>
<use href="#oHSO" fill="none" stroke="#fff" stroke-opacity="0.5" stroke-width="5.2" stroke-linejoin="round"/>
<use href="#fHSO" fill="#ba3b5b" fill-opacity="0.7" clip-path="url(#lHSO)"/>
<use href="#fHSO" fill="#5f207c" fill-opacity="0.7" clip-path="url(#rHSO)"/>
<use href="#oHSO" fill="none" stroke="#fff" stroke-opacity="0.64" stroke-width="4.6" stroke-linejoin="round"/>
<clipPath id="lMonoO"><rect x="0" y="0" width="843.4" height="587"/></clipPath>
<clipPath id="rMonoO"><rect x="843.4" y="0" width="1193" height="587"/></clipPath>
<defs><path id="fMonoO" d="M973.0 434.8 L973.0 434.8 L973.5 434.7 L974.0 434.7 L974.5 434.6 L975.0 434.6 L975.5 434.5 L976.0 434.4 L976.5 434.4 L977.0 434.3 L977.5 434.3 L978.0 434.2 L978.5 434.2 L979.0 434.2 L979.5 434.2 L980.0 434.2 L980.5 434.2 L981.0 434.2 L981.5 434.2 L982.0 434.2 L982.5 434.2 L983.0 434.2 L983.5 434.2 L984.0 434.2 L984.5 434.2 L985.0 434.2 L985.5 434.2 L986.0 434.2 L986.5 434.2 L987.0 434.2 L987.5 434.1 L988.0 433.9 L988.5 433.8 L989.0 433.6 L989.5 433.4 L990.0 433.2 L990.5 433.0 L991.0 432.8 L991.5 432.6 L992.0 432.4 L992.5 432.1 L993.0 431.9 L993.5 431.7 L994.0 431.5 L994.5 431.2 L995.0 431.0 L995.5 430.7 L996.0 430.5 L996.5 430.2 L997.0 430.0 L997.5 429.7 L998.0 429.5 L998.5 429.2 L999.0 428.9 L999.5 428.7 L1000.0 428.4 L1000.5 428.2 L1001.0 428.0 L1001.5 427.7 L1002.0 427.5 L1002.5 427.3 L1003.0 427.1 L1003.5 426.8 L1004.0 426.6 L1004.5 426.3 L1005.0 426.1 L1005.5 425.8 L1006.0 425.5 L1006.5 425.2 L1007.0 424.8 L1007.5 424.4 L1008.0 424.0 L1008.5 423.5 L1009.0 423.0 L1009.5 422.4 L1010.0 421.8 L1010.5 421.2 L1011.0 420.5 L1011.5 419.9 L1012.0 419.2 L1012.5 418.4 L1013.0 417.7 L1013.5 416.9 L1014.0 416.1 L1014.5 415.2 L1015.0 414.4 L1015.5 413.5 L1016.0 412.6 L1016.5 411.7 L1017.0 410.8 L1017.5 409.9 L1018.0 409.0 L1018.5 408.1 L1019.0 407.2 L1019.5 406.3 L1020.0 405.3 L1020.5 404.4 L1021.0 403.5 L1021.5 402.6 L1022.0 401.7 L1022.5 400.8 L1023.0 399.9 L1023.5 399.0 L1024.0 398.2 L1024.5 397.4 L1025.0 396.7 L1025.5 396.0 L1026.0 395.3 L1026.5 394.6 L1027.0 393.9 L1027.5 393.2 L1028.0 392.5 L1028.5 391.8 L1029.0 391.0 L1029.5 390.3 L1030.0 389.5 L1030.5 388.6 L1031.0 387.8 L1031.5 386.9 L1032.0 385.9 L1032.5 385.0 L1033.0 384.0 L1033.5 383.0 L1034.0 381.9 L1034.5 380.8 L1035.0 379.6 L1035.5 378.4 L1036.0 377.1 L1036.5 375.8 L1037.0 374.4 L1037.5 373.1 L1038.0 371.7 L1038.5 370.3 L1039.0 369.0 L1039.5 367.6 L1040.0 366.2 L1040.5 364.8 L1041.0 363.4 L1041.5 362.1 L1042.0 360.7 L1042.5 359.3 L1043.0 357.9 L1043.5 356.6 L1044.0 355.2 L1044.5 353.9 L1045.0 352.5 L1045.5 351.2 L1046.0 350.0 L1046.5 348.7 L1047.0 347.6 L1047.5 346.4 L1048.0 345.4 L1048.5 344.3 L1049.0 343.4 L1049.5 342.5 L1050.0 341.7 L1050.5 341.0 L1051.0 340.4 L1051.5 339.7 L1052.0 339.2 L1052.5 338.6 L1053.0 338.1 L1053.5 337.7 L1054.0 337.2 L1054.5 336.8 L1055.0 336.4 L1055.5 335.9 L1056.0 335.6 L1056.5 335.2 L1057.0 334.8 L1057.5 334.4 L1058.0 334.1 L1058.5 333.7 L1059.0 333.4 L1059.5 333.0 L1060.0 332.6 L1060.5 332.3 L1061.0 332.0 L1061.5 331.6 L1062.0 331.3 L1062.5 331.0 L1063.0 330.7 L1063.5 330.5 L1064.0 330.3 L1064.5 330.1 L1065.0 330.0 L1065.5 330.0 L1066.0 330.0 L1066.5 330.1 L1067.0 330.3 L1067.5 330.5 L1068.0 330.9 L1068.5 331.3 L1069.0 331.8 L1069.5 332.5 L1070.0 333.3 L1070.5 334.2 L1071.0 335.2 L1071.5 336.3 L1072.0 337.6 L1072.5 338.9 L1073.0 340.4 L1073.5 341.8 L1074.0 343.3 L1074.5 344.8 L1075.0 346.3 L1075.5 347.8 L1076.0 349.2 L1076.5 350.6 L1077.0 351.9 L1077.5 353.1 L1078.0 354.1 L1078.5 355.1 L1079.0 356.1 L1079.5 357.0 L1080.0 358.0 L1080.5 358.9 L1081.0 359.9 L1081.5 360.9 L1082.0 361.9 L1082.5 362.8 L1083.0 363.8 L1083.5 364.8 L1084.0 365.8 L1084.5 366.8 L1085.0 367.8 L1085.5 368.8 L1086.0 369.8 L1086.5 370.8 L1087.0 371.9 L1087.5 372.9 L1088.0 374.0 L1088.5 375.2 L1089.0 376.3 L1089.5 377.5 L1090.0 378.8 L1090.5 380.0 L1091.0 381.3 L1091.5 382.5 L1092.0 383.8 L1092.5 385.1 L1093.0 386.3 L1093.5 387.6 L1094.0 388.8 L1094.5 390.0 L1095.0 391.1 L1095.5 392.2 L1096.0 393.3 L1096.5 394.3 L1097.0 395.2 L1097.5 396.1 L1098.0 397.0 L1098.5 397.9 L1099.0 398.8 L1099.5 399.8 L1100.0 400.7 L1100.5 401.6 L1101.0 402.6 L1101.5 403.6 L1102.0 404.6 L1102.5 405.6 L1103.0 406.5 L1103.5 407.5 L1104.0 408.4 L1104.5 409.4 L1105.0 410.3 L1105.5 411.1 L1106.0 412.0 L1106.5 412.8 L1107.0 413.6 L1107.5 414.4 L1108.0 415.2 L1108.5 415.9 L1109.0 416.7 L1109.5 417.4 L1110.0 418.1 L1110.5 418.7 L1111.0 419.4 L1111.5 420.0 L1112.0 420.6 L1112.5 421.2 L1113.0 421.8 L1113.5 422.3 L1114.0 422.9 L1114.5 423.4 L1115.0 423.9 L1115.5 424.4 L1116.0 424.9 L1116.5 425.3 L1117.0 425.8 L1117.5 426.3 L1118.0 426.8 L1118.5 427.2 L1119.0 427.7 L1119.5 428.1 L1120.0 428.6 L1120.5 429.0 L1121.0 429.4 L1121.5 429.8 L1122.0 430.2 L1122.5 430.5 L1123.0 430.8 L1123.5 431.2 L1124.0 431.5 L1124.5 431.7 L1125.0 432.0 L1125.5 432.3 L1126.0 432.5 L1126.5 432.7 L1127.0 432.9 L1127.5 433.1 L1128.0 433.3 L1128.5 433.5 L1129.0 433.6 L1129.5 433.8 L1130.0 433.9 L1130.5 434.0 L1131.0 434.1 L1131.5 434.2 L1132.0 434.2 L1132.5 434.2 L1133.0 434.2 L1133.5 434.2 L1134.0 434.2 L1134.5 434.2 L1135.0 434.2 L1135.5 434.2 L1136.0 434.2 L1136.5 434.2 L1137.0 434.2 L1137.5 434.2 L1138.0 434.2 L1138.5 434.2 L1139.0 434.2 L1139.5 434.2 L1140.0 434.2 L1140.5 434.2 L1141.0 434.2 L1141.5 434.2 L1142.0 434.2 L1142.5 434.2 L1143.0 434.2 L1143.5 434.2 L1144.0 434.2 L1144.5 434.2 L1145.0 434.2 L1145.5 434.2 L1146.0 434.2 L1146.5 434.2 L1147.0 434.2 L1147.5 434.2 L1148.0 434.2 L1148.5 434.2 L1149.0 434.2 L1149.5 434.2 L1150.0 434.2 L1150.5 434.2 L1151.0 434.2 L1151.5 434.2 L1152.0 434.2 L1152.5 434.2 L1153.0 434.2 L1153.5 434.3 L1154.0 434.3 L1154.5 434.4 L1155.0 434.4 L1155.5 434.5 L1156.0 434.6 L1156.5 434.6 L1157.0 434.7 L1157.5 434.7 L1158.0 434.8 L1158.0 434.8 Z"/><path id="oMonoO" d="M973.0 434.8 L973.5 434.7 L974.0 434.7 L974.5 434.6 L975.0 434.6 L975.5 434.5 L976.0 434.4 L976.5 434.4 L977.0 434.3 L977.5 434.3 L978.0 434.2 L978.5 434.2 L979.0 434.2 L979.5 434.2 L980.0 434.2 L980.5 434.2 L981.0 434.2 L981.5 434.2 L982.0 434.2 L982.5 434.2 L983.0 434.2 L983.5 434.2 L984.0 434.2 L984.5 434.2 L985.0 434.2 L985.5 434.2 L986.0 434.2 L986.5 434.2 L987.0 434.2 L987.5 434.1 L988.0 433.9 L988.5 433.8 L989.0 433.6 L989.5 433.4 L990.0 433.2 L990.5 433.0 L991.0 432.8 L991.5 432.6 L992.0 432.4 L992.5 432.1 L993.0 431.9 L993.5 431.7 L994.0 431.5 L994.5 431.2 L995.0 431.0 L995.5 430.7 L996.0 430.5 L996.5 430.2 L997.0 430.0 L997.5 429.7 L998.0 429.5 L998.5 429.2 L999.0 428.9 L999.5 428.7 L1000.0 428.4 L1000.5 428.2 L1001.0 428.0 L1001.5 427.7 L1002.0 427.5 L1002.5 427.3 L1003.0 427.1 L1003.5 426.8 L1004.0 426.6 L1004.5 426.3 L1005.0 426.1 L1005.5 425.8 L1006.0 425.5 L1006.5 425.2 L1007.0 424.8 L1007.5 424.4 L1008.0 424.0 L1008.5 423.5 L1009.0 423.0 L1009.5 422.4 L1010.0 421.8 L1010.5 421.2 L1011.0 420.5 L1011.5 419.9 L1012.0 419.2 L1012.5 418.4 L1013.0 417.7 L1013.5 416.9 L1014.0 416.1 L1014.5 415.2 L1015.0 414.4 L1015.5 413.5 L1016.0 412.6 L1016.5 411.7 L1017.0 410.8 L1017.5 409.9 L1018.0 409.0 L1018.5 408.1 L1019.0 407.2 L1019.5 406.3 L1020.0 405.3 L1020.5 404.4 L1021.0 403.5 L1021.5 402.6 L1022.0 401.7 L1022.5 400.8 L1023.0 399.9 L1023.5 399.0 L1024.0 398.2 L1024.5 397.4 L1025.0 396.7 L1025.5 396.0 L1026.0 395.3 L1026.5 394.6 L1027.0 393.9 L1027.5 393.2 L1028.0 392.5 L1028.5 391.8 L1029.0 391.0 L1029.5 390.3 L1030.0 389.5 L1030.5 388.6 L1031.0 387.8 L1031.5 386.9 L1032.0 385.9 L1032.5 385.0 L1033.0 384.0 L1033.5 383.0 L1034.0 381.9 L1034.5 380.8 L1035.0 379.6 L1035.5 378.4 L1036.0 377.1 L1036.5 375.8 L1037.0 374.4 L1037.5 373.1 L1038.0 371.7 L1038.5 370.3 L1039.0 369.0 L1039.5 367.6 L1040.0 366.2 L1040.5 364.8 L1041.0 363.4 L1041.5 362.1 L1042.0 360.7 L1042.5 359.3 L1043.0 357.9 L1043.5 356.6 L1044.0 355.2 L1044.5 353.9 L1045.0 352.5 L1045.5 351.2 L1046.0 350.0 L1046.5 348.7 L1047.0 347.6 L1047.5 346.4 L1048.0 345.4 L1048.5 344.3 L1049.0 343.4 L1049.5 342.5 L1050.0 341.7 L1050.5 341.0 L1051.0 340.4 L1051.5 339.7 L1052.0 339.2 L1052.5 338.6 L1053.0 338.1 L1053.5 337.7 L1054.0 337.2 L1054.5 336.8 L1055.0 336.4 L1055.5 335.9 L1056.0 335.6 L1056.5 335.2 L1057.0 334.8 L1057.5 334.4 L1058.0 334.1 L1058.5 333.7 L1059.0 333.4 L1059.5 333.0 L1060.0 332.6 L1060.5 332.3 L1061.0 332.0 L1061.5 331.6 L1062.0 331.3 L1062.5 331.0 L1063.0 330.7 L1063.5 330.5 L1064.0 330.3 L1064.5 330.1 L1065.0 330.0 L1065.5 330.0 L1066.0 330.0 L1066.5 330.1 L1067.0 330.3 L1067.5 330.5 L1068.0 330.9 L1068.5 331.3 L1069.0 331.8 L1069.5 332.5 L1070.0 333.3 L1070.5 334.2 L1071.0 335.2 L1071.5 336.3 L1072.0 337.6 L1072.5 338.9 L1073.0 340.4 L1073.5 341.8 L1074.0 343.3 L1074.5 344.8 L1075.0 346.3 L1075.5 347.8 L1076.0 349.2 L1076.5 350.6 L1077.0 351.9 L1077.5 353.1 L1078.0 354.1 L1078.5 355.1 L1079.0 356.1 L1079.5 357.0 L1080.0 358.0 L1080.5 358.9 L1081.0 359.9 L1081.5 360.9 L1082.0 361.9 L1082.5 362.8 L1083.0 363.8 L1083.5 364.8 L1084.0 365.8 L1084.5 366.8 L1085.0 367.8 L1085.5 368.8 L1086.0 369.8 L1086.5 370.8 L1087.0 371.9 L1087.5 372.9 L1088.0 374.0 L1088.5 375.2 L1089.0 376.3 L1089.5 377.5 L1090.0 378.8 L1090.5 380.0 L1091.0 381.3 L1091.5 382.5 L1092.0 383.8 L1092.5 385.1 L1093.0 386.3 L1093.5 387.6 L1094.0 388.8 L1094.5 390.0 L1095.0 391.1 L1095.5 392.2 L1096.0 393.3 L1096.5 394.3 L1097.0 395.2 L1097.5 396.1 L1098.0 397.0 L1098.5 397.9 L1099.0 398.8 L1099.5 399.8 L1100.0 400.7 L1100.5 401.6 L1101.0 402.6 L1101.5 403.6 L1102.0 404.6 L1102.5 405.6 L1103.0 406.5 L1103.5 407.5 L1104.0 408.4 L1104.5 409.4 L1105.0 410.3 L1105.5 411.1 L1106.0 412.0 L1106.5 412.8 L1107.0 413.6 L1107.5 414.4 L1108.0 415.2 L1108.5 415.9 L1109.0 416.7 L1109.5 417.4 L1110.0 418.1 L1110.5 418.7 L1111.0 419.4 L1111.5 420.0 L1112.0 420.6 L1112.5 421.2 L1113.0 421.8 L1113.5 422.3 L1114.0 422.9 L1114.5 423.4 L1115.0 423.9 L1115.5 424.4 L1116.0 424.9 L1116.5 425.3 L1117.0 425.8 L1117.5 426.3 L1118.0 426.8 L1118.5 427.2 L1119.0 427.7 L1119.5 428.1 L1120.0 428.6 L1120.5 429.0 L1121.0 429.4 L1121.5 429.8 L1122.0 430.2 L1122.5 430.5 L1123.0 430.8 L1123.5 431.2 L1124.0 431.5 L1124.5 431.7 L1125.0 432.0 L1125.5 432.3 L1126.0 432.5 L1126.5 432.7 L1127.0 432.9 L1127.5 433.1 L1128.0 433.3 L1128.5 433.5 L1129.0 433.6 L1129.5 433.8 L1130.0 433.9 L1130.5 434.0 L1131.0 434.1 L1131.5 434.2 L1132.0 434.2 L1132.5 434.2 L1133.0 434.2 L1133.5 434.2 L1134.0 434.2 L1134.5 434.2 L1135.0 434.2 L1135.5 434.2 L1136.0 434.2 L1136.5 434.2 L1137.0 434.2 L1137.5 434.2 L1138.0 434.2 L1138.5 434.2 L1139.0 434.2 L1139.5 434.2 L1140.0 434.2 L1140.5 434.2 L1141.0 434.2 L1141.5 434.2 L1142.0 434.2 L1142.5 434.2 L1143.0 434.2 L1143.5 434.2 L1144.0 434.2 L1144.5 434.2 L1145.0 434.2 L1145.5 434.2 L1146.0 434.2 L1146.5 434.2 L1147.0 434.2 L1147.5 434.2 L1148.0 434.2 L1148.5 434.2 L1149.0 434.2 L1149.5 434.2 L1150.0 434.2 L1150.5 434.2 L1151.0 434.2 L1151.5 434.2 L1152.0 434.2 L1152.5 434.2 L1153.0 434.2 L1153.5 434.3 L1154.0 434.3 L1154.5 434.4 L1155.0 434.4 L1155.5 434.5 L1156.0 434.6 L1156.5 434.6 L1157.0 434.7 L1157.5 434.7 L1158.0 434.8"/></defs>
<use href="#oMonoO" fill="none" stroke="#fff" stroke-opacity="0.5" stroke-width="5.2" stroke-linejoin="round"/>
<use href="#fMonoO" fill="#5f207c" fill-opacity="0.7" clip-path="url(#rMonoO)"/>
<use href="#oMonoO" fill="none" stroke="#fff" stroke-opacity="0.64" stroke-width="4.6" stroke-linejoin="round"/>
<line x1="869.6" x2="959.0" y1="180.3" y2="180.3" stroke="#000" stroke-width="3.1"/>
<line x1="892.7" x2="935.0" y1="180.3" y2="180.3" stroke="#000" stroke-width="6.9"/>
<ellipse cx="913.6" cy="180.3" rx="7.9" ry="8.5" fill="#fff" stroke="#000" stroke-width="2.2"/>
<line x1="752.8" x2="851.5" y1="307.7" y2="307.7" stroke="#000" stroke-width="3.1"/>
<line x1="781.2" x2="825.9" y1="307.7" y2="307.7" stroke="#000" stroke-width="6.9"/>
<ellipse cx="803.3" cy="307.7" rx="7.9" ry="8.5" fill="#fff" stroke="#000" stroke-width="2.2"/>
<line x1="1008.9" x2="1112.9" y1="434.8" y2="434.8" stroke="#000" stroke-width="3.1"/>
<line x1="1037.0" x2="1086.2" y1="434.8" y2="434.8" stroke="#000" stroke-width="6.9"/>
<ellipse cx="1061.6" cy="434.8" rx="7.9" ry="8.5" fill="#fff" stroke="#000" stroke-width="2.2"/>
</g>
<rect x="676.7" y="7.0" width="508.39999999999986" height="46.0" fill="none" stroke="#333" stroke-width="1.45"/>
<rect x="676.7" y="53.0" width="508.39999999999986" height="457.5" fill="none" stroke="#333" stroke-width="1.45"/>
<line x1="676.0" x2="1185.8" y1="53.0" y2="53.0" stroke="#333" stroke-width="3"/>
<line x1="684.3" x2="684.3" y1="510.5" y2="518.7" stroke="#333" stroke-width="3"/>
<text x="684.3" y="542.2" text-anchor="middle" class="ax">0.4</text>
<line x1="828.5" x2="828.5" y1="510.5" y2="518.7" stroke="#333" stroke-width="3"/>
<text x="828.5" y="542.2" text-anchor="middle" class="ax">0.5</text>
<line x1="972.6" x2="972.6" y1="510.5" y2="518.7" stroke="#333" stroke-width="3"/>
<text x="972.6" y="542.2" text-anchor="middle" class="ax">0.6</text>
<line x1="1116.8" x2="1116.8" y1="510.5" y2="518.7" stroke="#333" stroke-width="3"/>
<text x="1116.8" y="542.2" text-anchor="middle" class="ax">0.7</text>
<text x="930.9" y="38.5" text-anchor="middle" class="st">Oxytone</text>
<line x1="142.6" x2="151" y1="180.3" y2="180.3" stroke="#333" stroke-width="2.7"/>
<text x="135.6" y="188.9" text-anchor="end" class="ax">L2</text>
<line x1="142.6" x2="151" y1="307.7" y2="307.7" stroke="#333" stroke-width="2.7"/>
<text x="135.6" y="316.3" text-anchor="end" class="ax">HS</text>
<line x1="142.6" x2="151" y1="434.8" y2="434.8" stroke="#333" stroke-width="2.7"/>
<text x="135.6" y="443.4" text-anchor="end" class="ax">Monolingual</text>
<text x="1144.0" y="573.7" text-anchor="end" class="tt">P(Target fixation)</text>
</svg>
</body></html>
